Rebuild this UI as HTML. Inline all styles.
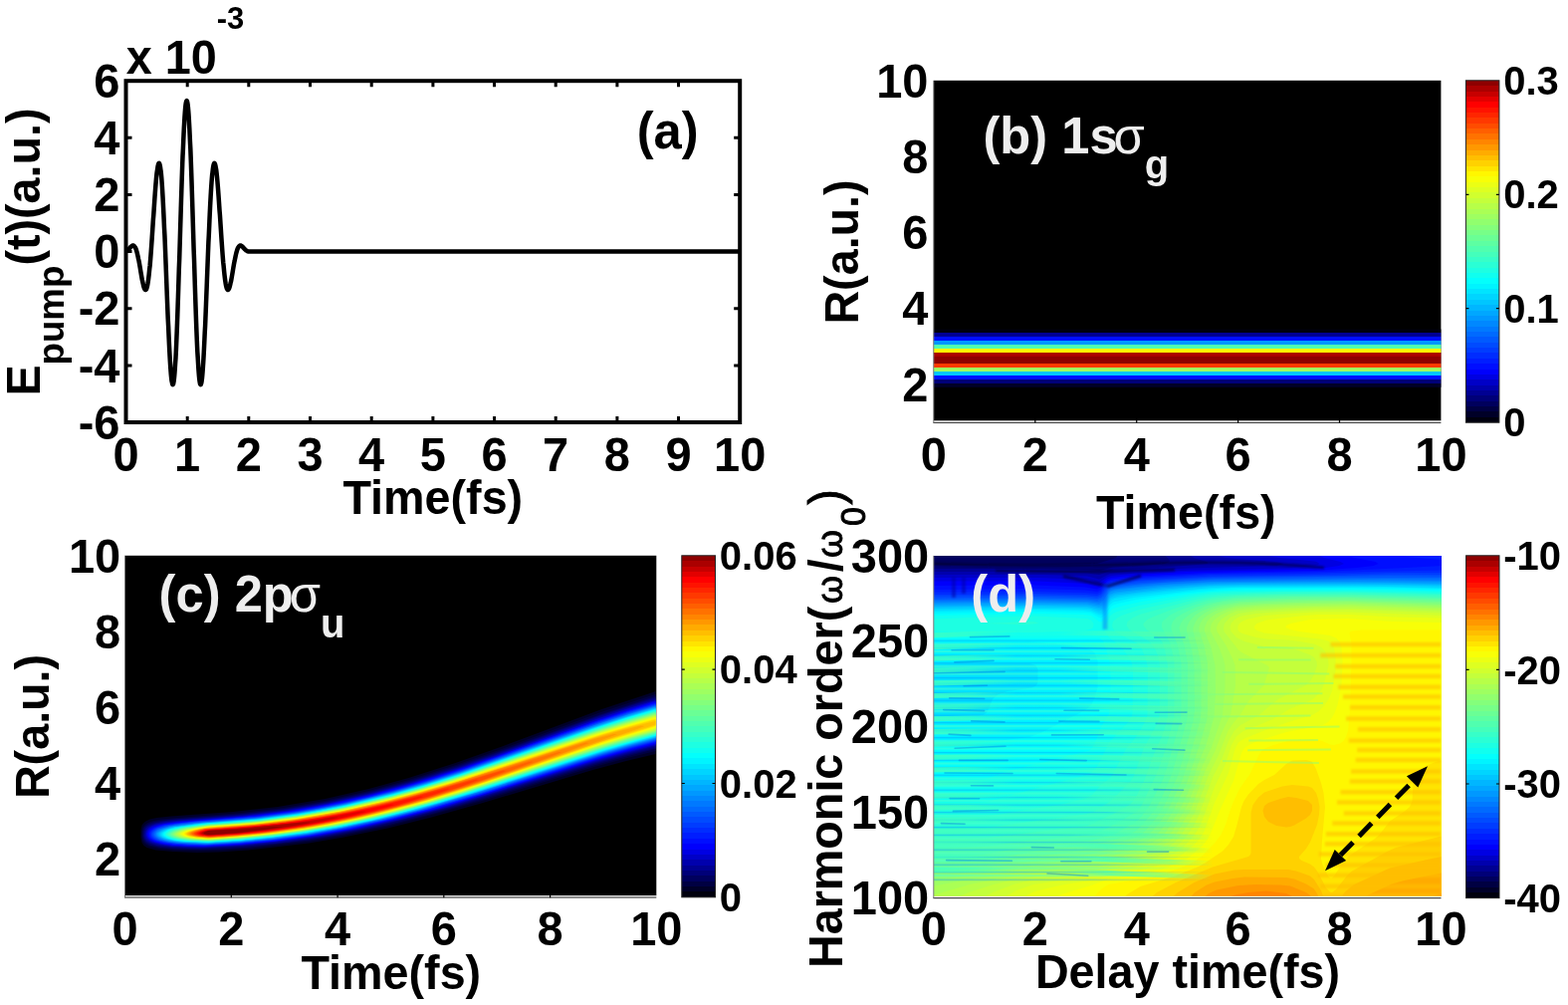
<!DOCTYPE html><html><head><meta charset="utf-8"><title>figure</title><style>html,body{margin:0;padding:0;background:#fff;overflow:hidden}svg{display:block}text{font-family:"Liberation Sans",Arial,Helvetica,sans-serif;font-weight:bold}.n{font-weight:normal}.n2{font-weight:normal;stroke:#000;stroke-width:0.9px}</style></head><body>
<svg width="1575" height="1009" viewBox="0 0 1575 1009">
<rect width="1575" height="1009" fill="#fff"/>
<polyline fill="none" stroke="#000" stroke-width="4.5" stroke-linejoin="round" points="126.5,252.2 126.8,252.1 127.1,251.9 127.4,251.7 127.7,251.5 128,251.3 128.4,251 128.7,250.7 129,250.4 129.3,250.1 129.6,249.8 129.9,249.5 130.2,249.1 130.5,248.8 130.8,248.4 131.1,248.1 131.4,247.8 131.7,247.5 132.1,247.2 132.4,247 132.7,246.8 133,246.6 133.3,246.5 133.6,246.5 133.9,246.5 134.2,246.6 134.5,246.8 134.8,247 135.1,247.4 135.4,247.8 135.8,248.3 136.1,248.9 136.4,249.6 136.7,250.4 137,251.3 137.3,252.3 137.6,253.4 137.9,254.6 138.2,255.9 138.5,257.3 138.8,258.7 139.1,260.2 139.5,261.8 139.8,263.5 140.1,265.2 140.4,266.9 140.7,268.7 141,270.5 141.3,272.3 141.6,274.1 141.9,275.9 142.2,277.6 142.5,279.3 142.8,281 143.2,282.6 143.5,284 143.8,285.4 144.1,286.7 144.4,287.8 144.7,288.8 145,289.6 145.3,290.2 145.6,290.7 145.9,291 146.2,291 146.5,290.9 146.9,290.5 147.2,289.8 147.5,289 147.8,287.9 148.1,286.5 148.4,284.9 148.7,283 149,280.9 149.3,278.5 149.6,275.9 149.9,273.1 150.2,270 150.6,266.7 150.9,263.2 151.2,259.5 151.5,255.6 151.8,251.6 152.1,247.4 152.4,243.1 152.7,238.6 153,234.1 153.3,229.5 153.6,224.9 153.9,220.2 154.3,215.6 154.6,211 154.9,206.5 155.2,202 155.5,197.7 155.8,193.5 156.1,189.5 156.4,185.7 156.7,182.1 157,178.8 157.3,175.7 157.6,173 158,170.5 158.3,168.5 158.6,166.7 158.9,165.4 159.2,164.5 159.5,163.9 159.8,163.8 160.1,164.2 160.4,165 160.7,166.2 161,167.9 161.3,170.1 161.7,172.7 162,175.8 162.3,179.3 162.6,183.3 162.9,187.7 163.2,192.5 163.5,197.7 163.8,203.2 164.1,209.2 164.4,215.4 164.7,222 165,228.8 165.4,235.9 165.7,243.2 166,250.7 166.3,258.3 166.6,266.1 166.9,273.9 167.2,281.7 167.5,289.6 167.8,297.3 168.1,305 168.4,312.6 168.7,320 169.1,327.2 169.4,334.1 169.7,340.8 170,347.1 170.3,353.1 170.6,358.6 170.9,363.8 171.2,368.4 171.5,372.6 171.8,376.3 172.1,379.4 172.4,382 172.8,383.9 173.1,385.3 173.4,386.1 173.7,386.2 174,385.7 174.3,384.5 174.6,382.7 174.9,380.3 175.2,377.3 175.5,373.6 175.8,369.3 176.1,364.5 176.5,359 176.8,353 177.1,346.5 177.4,339.5 177.7,332.1 178,324.1 178.3,315.8 178.6,307.2 178.9,298.2 179.2,289 179.5,279.5 179.8,269.8 180.2,260 180.5,250.1 180.8,240.2 181.1,230.3 181.4,220.4 181.7,210.6 182,201 182.3,191.6 182.6,182.4 182.9,173.6 183.2,165 183.5,156.9 183.9,149.2 184.2,141.9 184.5,135.1 184.8,128.9 185.1,123.3 185.4,118.2 185.7,113.8 186,110 186.3,106.8 186.6,104.4 186.9,102.6 187.2,101.6 187.6,101.2 187.9,101.6 188.2,102.6 188.5,104.4 188.8,106.8 189.1,110 189.4,113.8 189.7,118.2 190,123.3 190.3,128.9 190.6,135.1 190.9,141.9 191.3,149.2 191.6,156.9 191.9,165 192.2,173.6 192.5,182.4 192.8,191.6 193.1,201 193.4,210.6 193.7,220.4 194,230.3 194.3,240.2 194.6,250.1 195,260 195.3,269.8 195.6,279.5 195.9,289 196.2,298.2 196.5,307.2 196.8,315.8 197.1,324.1 197.4,332.1 197.7,339.5 198,346.5 198.3,353 198.7,359 199,364.5 199.3,369.3 199.6,373.6 199.9,377.3 200.2,380.3 200.5,382.7 200.8,384.5 201.1,385.7 201.4,386.2 201.7,386.1 202,385.3 202.4,383.9 202.7,382 203,379.4 203.3,376.3 203.6,372.6 203.9,368.4 204.2,363.8 204.5,358.6 204.8,353.1 205.1,347.1 205.4,340.8 205.7,334.1 206.1,327.2 206.4,320 206.7,312.6 207,305 207.3,297.3 207.6,289.6 207.9,281.7 208.2,273.9 208.5,266.1 208.8,258.3 209.1,250.7 209.4,243.2 209.8,235.9 210.1,228.8 210.4,222 210.7,215.4 211,209.2 211.3,203.2 211.6,197.7 211.9,192.5 212.2,187.7 212.5,183.3 212.8,179.3 213.1,175.8 213.5,172.7 213.8,170.1 214.1,167.9 214.4,166.2 214.7,165 215,164.2 215.3,163.8 215.6,163.9 215.9,164.5 216.2,165.4 216.5,166.7 216.8,168.5 217.2,170.5 217.5,173 217.8,175.7 218.1,178.8 218.4,182.1 218.7,185.7 219,189.5 219.3,193.5 219.6,197.7 219.9,202 220.2,206.5 220.5,211 220.9,215.6 221.2,220.2 221.5,224.9 221.8,229.5 222.1,234.1 222.4,238.6 222.7,243.1 223,247.4 223.3,251.6 223.6,255.6 223.9,259.5 224.2,263.2 224.6,266.7 224.9,270 225.2,273.1 225.5,275.9 225.8,278.5 226.1,280.9 226.4,283 226.7,284.9 227,286.5 227.3,287.9 227.6,289 227.9,289.8 228.3,290.5 228.6,290.9 228.9,291 229.2,291 229.5,290.7 229.8,290.2 230.1,289.6 230.4,288.8 230.7,287.8 231,286.7 231.3,285.4 231.6,284 232,282.6 232.3,281 232.6,279.3 232.9,277.6 233.2,275.9 233.5,274.1 233.8,272.3 234.1,270.5 234.4,268.7 234.7,266.9 235,265.2 235.3,263.5 235.7,261.8 236,260.2 236.3,258.7 236.6,257.3 236.9,255.9 237.2,254.6 237.5,253.4 237.8,252.3 238.1,251.3 238.4,250.4 238.7,249.6 239,248.9 239.4,248.3 239.7,247.8 240,247.4 240.3,247 240.6,246.8 240.9,246.6 241.2,246.5 241.5,246.5 241.8,246.5 242.1,246.6 242.4,246.8 242.7,247 243.1,247.2 243.4,247.5 243.7,247.8 244,248.1 244.3,248.4 244.6,248.8 244.9,249.1 245.2,249.5 245.5,249.8 245.8,250.1 246.1,250.4 246.4,250.7 246.8,251 247.1,251.3 247.4,251.5 247.7,251.7 248,251.9 248.3,252.1 248.6,252.2 248.9,252.3 249.2,252.4 249.5,252.5 249.8,252.5 250.1,252.6 250.5,252.6 250.8,252.6 251.1,252.6 743.2,252.6"/>
<path d="M188.2 424v-6M188.2 81.2v6M249.8 424v-6M249.8 81.2v6M311.5 424v-6M311.5 81.2v6M373.2 424v-6M373.2 81.2v6M434.9 424v-6M434.9 81.2v6M496.5 424v-6M496.5 81.2v6M558.2 424v-6M558.2 81.2v6M619.9 424v-6M619.9 81.2v6M681.5 424v-6M681.5 81.2v6M126.5 366.9h6M743.2 366.9h-6M126.5 309.7h6M743.2 309.7h-6M126.5 252.6h6M743.2 252.6h-6M126.5 195.5h6M743.2 195.5h-6M126.5 138.3h6M743.2 138.3h-6" stroke="#000" stroke-width="3" fill="none"/>
<rect x="126.5" y="81.2" width="616.7" height="342.8" fill="none" stroke="#000" stroke-width="4"/>
<text transform="matrix(1 0 0 1.035 126.5 473)" font-size="47" text-anchor="middle" fill="#000">0</text>
<text transform="matrix(1 0 0 1.035 188.17 473)" font-size="47" text-anchor="middle" fill="#000">1</text>
<text transform="matrix(1 0 0 1.035 249.84 473)" font-size="47" text-anchor="middle" fill="#000">2</text>
<text transform="matrix(1 0 0 1.035 311.51 473)" font-size="47" text-anchor="middle" fill="#000">3</text>
<text transform="matrix(1 0 0 1.035 373.18 473)" font-size="47" text-anchor="middle" fill="#000">4</text>
<text transform="matrix(1 0 0 1.035 434.85 473)" font-size="47" text-anchor="middle" fill="#000">5</text>
<text transform="matrix(1 0 0 1.035 496.52 473)" font-size="47" text-anchor="middle" fill="#000">6</text>
<text transform="matrix(1 0 0 1.035 558.19 473)" font-size="47" text-anchor="middle" fill="#000">7</text>
<text transform="matrix(1 0 0 1.035 619.86 473)" font-size="47" text-anchor="middle" fill="#000">8</text>
<text transform="matrix(1 0 0 1.035 681.53 473)" font-size="47" text-anchor="middle" fill="#000">9</text>
<text transform="matrix(1 0 0 1.035 743.2 473)" font-size="47" text-anchor="middle" fill="#000">10</text>
<text transform="matrix(1 0 0 1.035 120.5 440.7)" font-size="47" text-anchor="end" fill="#000">-6</text>
<text transform="matrix(1 0 0 1.035 120.5 383.57)" font-size="47" text-anchor="end" fill="#000">-4</text>
<text transform="matrix(1 0 0 1.035 120.5 326.43)" font-size="47" text-anchor="end" fill="#000">-2</text>
<text transform="matrix(1 0 0 1.035 120.5 269.3)" font-size="47" text-anchor="end" fill="#000">0</text>
<text transform="matrix(1 0 0 1.035 120.5 212.17)" font-size="47" text-anchor="end" fill="#000">2</text>
<text transform="matrix(1 0 0 1.035 120.5 155.03)" font-size="47" text-anchor="end" fill="#000">4</text>
<text transform="matrix(1 0 0 1.035 120.5 97.9)" font-size="47" text-anchor="end" fill="#000">6</text>
<text transform="matrix(1 0 0 1.035 639.7 149.2)" font-size="50.7" text-anchor="start" fill="#000">(a)</text>
<text transform="matrix(1 0 0 1.035 344.4 515.7)" font-size="46.7" text-anchor="start" fill="#000">Time(fs)</text>
<text transform="matrix(1 0 0 1.035 126.7 74)" font-size="46.8" text-anchor="start" fill="#000">x 10</text>
<text transform="matrix(1 0 0 1.035 217.8 28.6)" font-size="31" text-anchor="start" fill="#000">-3</text>
<text transform="matrix(0 -1 1.03 0 39.6 397.6)" font-size="46.7" text-anchor="start">E<tspan font-size="36.7" dy="23.6">pump</tspan><tspan dy="-23.6">(t)(a.u.)</tspan></text>
<rect x="937.9" y="80.8" width="509.5" height="341.6" fill="#000"/>
<linearGradient id="g1" gradientUnits="userSpaceOnUse" x1="0" y1="330.5" x2="0" y2="388.8"><stop offset="0.00000" stop-color="#00000d"/><stop offset="0.06518" stop-color="#00000d"/><stop offset="0.06518" stop-color="#000092"/><stop offset="0.13208" stop-color="#000092"/><stop offset="0.13208" stop-color="#000eff"/><stop offset="0.20069" stop-color="#000eff"/><stop offset="0.20069" stop-color="#0098ff"/><stop offset="0.26415" stop-color="#0098ff"/><stop offset="0.26415" stop-color="#50ffaf"/><stop offset="0.33105" stop-color="#50ffaf"/><stop offset="0.33105" stop-color="#fff700"/><stop offset="0.40137" stop-color="#fff700"/><stop offset="0.40137" stop-color="#ab0000"/><stop offset="0.46827" stop-color="#ab0000"/><stop offset="0.46827" stop-color="#8e0000"/><stop offset="0.53345" stop-color="#8e0000"/><stop offset="0.53345" stop-color="#8e0000"/><stop offset="0.59863" stop-color="#8e0000"/><stop offset="0.59863" stop-color="#ff3900"/><stop offset="0.66381" stop-color="#ff3900"/><stop offset="0.66381" stop-color="#9eff61"/><stop offset="0.73413" stop-color="#9eff61"/><stop offset="0.73413" stop-color="#00c6ff"/><stop offset="0.79931" stop-color="#00c6ff"/><stop offset="0.79931" stop-color="#000eff"/><stop offset="0.86621" stop-color="#000eff"/><stop offset="0.86621" stop-color="#000078"/><stop offset="0.93482" stop-color="#000078"/><stop offset="0.93482" stop-color="#000028"/><stop offset="1.00000" stop-color="#000028"/></linearGradient>
<rect x="937.9" y="330.5" width="509.5" height="58.3" fill="url(#g1)"/>
<rect x="937.9" y="422.7" width="509.5" height="1.1" fill="#fff" fill-opacity="0.82"/>
<rect x="937.4" y="423.8" width="510" height="1.2" fill="#444"/>
<rect x="937.3" y="80.8" width="1" height="343.8" fill="#777"/>
<path d="M1039.8 424.6v-4M1141.7 424.6v-4M1243.6 424.6v-4M1345.5 424.6v-4" stroke="#000" stroke-width="1.2"/>
<linearGradient id="g2" gradientUnits="userSpaceOnUse" x1="0" y1="80.8" x2="0" y2="424.2"><stop offset="0.00000" stop-color="#8e0000"/><stop offset="0.01563" stop-color="#8e0000"/><stop offset="0.01563" stop-color="#ab0000"/><stop offset="0.03125" stop-color="#ab0000"/><stop offset="0.03125" stop-color="#c70000"/><stop offset="0.04688" stop-color="#c70000"/><stop offset="0.04688" stop-color="#e30000"/><stop offset="0.06250" stop-color="#e30000"/><stop offset="0.06250" stop-color="#ff0000"/><stop offset="0.07812" stop-color="#ff0000"/><stop offset="0.07812" stop-color="#ff1300"/><stop offset="0.09375" stop-color="#ff1300"/><stop offset="0.09375" stop-color="#ff2600"/><stop offset="0.10937" stop-color="#ff2600"/><stop offset="0.10937" stop-color="#ff3900"/><stop offset="0.12500" stop-color="#ff3900"/><stop offset="0.12500" stop-color="#ff4c00"/><stop offset="0.14062" stop-color="#ff4c00"/><stop offset="0.14062" stop-color="#ff5f00"/><stop offset="0.15625" stop-color="#ff5f00"/><stop offset="0.15625" stop-color="#ff7200"/><stop offset="0.17188" stop-color="#ff7200"/><stop offset="0.17188" stop-color="#ff8500"/><stop offset="0.18750" stop-color="#ff8500"/><stop offset="0.18750" stop-color="#ff9800"/><stop offset="0.20313" stop-color="#ff9800"/><stop offset="0.20313" stop-color="#ffab00"/><stop offset="0.21875" stop-color="#ffab00"/><stop offset="0.21875" stop-color="#ffbe00"/><stop offset="0.23438" stop-color="#ffbe00"/><stop offset="0.23438" stop-color="#ffd100"/><stop offset="0.25000" stop-color="#ffd100"/><stop offset="0.25000" stop-color="#ffe400"/><stop offset="0.26562" stop-color="#ffe400"/><stop offset="0.26562" stop-color="#fff700"/><stop offset="0.28125" stop-color="#fff700"/><stop offset="0.28125" stop-color="#f8ff07"/><stop offset="0.29688" stop-color="#f8ff07"/><stop offset="0.29688" stop-color="#ebff14"/><stop offset="0.31250" stop-color="#ebff14"/><stop offset="0.31250" stop-color="#deff21"/><stop offset="0.32812" stop-color="#deff21"/><stop offset="0.32812" stop-color="#d1ff2e"/><stop offset="0.34375" stop-color="#d1ff2e"/><stop offset="0.34375" stop-color="#c4ff3b"/><stop offset="0.35938" stop-color="#c4ff3b"/><stop offset="0.35938" stop-color="#b7ff48"/><stop offset="0.37500" stop-color="#b7ff48"/><stop offset="0.37500" stop-color="#aaff55"/><stop offset="0.39062" stop-color="#aaff55"/><stop offset="0.39062" stop-color="#9eff61"/><stop offset="0.40625" stop-color="#9eff61"/><stop offset="0.40625" stop-color="#91ff6e"/><stop offset="0.42188" stop-color="#91ff6e"/><stop offset="0.42188" stop-color="#84ff7b"/><stop offset="0.43750" stop-color="#84ff7b"/><stop offset="0.43750" stop-color="#77ff88"/><stop offset="0.45312" stop-color="#77ff88"/><stop offset="0.45312" stop-color="#6aff95"/><stop offset="0.46875" stop-color="#6aff95"/><stop offset="0.46875" stop-color="#5dffa2"/><stop offset="0.48438" stop-color="#5dffa2"/><stop offset="0.48438" stop-color="#50ffaf"/><stop offset="0.50000" stop-color="#50ffaf"/><stop offset="0.50000" stop-color="#44ffbb"/><stop offset="0.51563" stop-color="#44ffbb"/><stop offset="0.51563" stop-color="#37ffc8"/><stop offset="0.53125" stop-color="#37ffc8"/><stop offset="0.53125" stop-color="#2affd5"/><stop offset="0.54688" stop-color="#2affd5"/><stop offset="0.54688" stop-color="#1dffe2"/><stop offset="0.56250" stop-color="#1dffe2"/><stop offset="0.56250" stop-color="#10ffef"/><stop offset="0.57812" stop-color="#10ffef"/><stop offset="0.57812" stop-color="#03fffc"/><stop offset="0.59375" stop-color="#03fffc"/><stop offset="0.59375" stop-color="#00f4ff"/><stop offset="0.60938" stop-color="#00f4ff"/><stop offset="0.60938" stop-color="#00e4ff"/><stop offset="0.62500" stop-color="#00e4ff"/><stop offset="0.62500" stop-color="#00d5ff"/><stop offset="0.64062" stop-color="#00d5ff"/><stop offset="0.64062" stop-color="#00c6ff"/><stop offset="0.65625" stop-color="#00c6ff"/><stop offset="0.65625" stop-color="#00b6ff"/><stop offset="0.67188" stop-color="#00b6ff"/><stop offset="0.67188" stop-color="#00a7ff"/><stop offset="0.68750" stop-color="#00a7ff"/><stop offset="0.68750" stop-color="#0098ff"/><stop offset="0.70312" stop-color="#0098ff"/><stop offset="0.70312" stop-color="#0088ff"/><stop offset="0.71875" stop-color="#0088ff"/><stop offset="0.71875" stop-color="#0079ff"/><stop offset="0.73438" stop-color="#0079ff"/><stop offset="0.73438" stop-color="#006aff"/><stop offset="0.75000" stop-color="#006aff"/><stop offset="0.75000" stop-color="#005aff"/><stop offset="0.76562" stop-color="#005aff"/><stop offset="0.76562" stop-color="#004bff"/><stop offset="0.78125" stop-color="#004bff"/><stop offset="0.78125" stop-color="#003cff"/><stop offset="0.79688" stop-color="#003cff"/><stop offset="0.79688" stop-color="#002cff"/><stop offset="0.81250" stop-color="#002cff"/><stop offset="0.81250" stop-color="#001dff"/><stop offset="0.82813" stop-color="#001dff"/><stop offset="0.82813" stop-color="#000eff"/><stop offset="0.84375" stop-color="#000eff"/><stop offset="0.84375" stop-color="#0000fc"/><stop offset="0.85938" stop-color="#0000fc"/><stop offset="0.85938" stop-color="#0000e2"/><stop offset="0.87500" stop-color="#0000e2"/><stop offset="0.87500" stop-color="#0000c7"/><stop offset="0.89062" stop-color="#0000c7"/><stop offset="0.89062" stop-color="#0000ad"/><stop offset="0.90625" stop-color="#0000ad"/><stop offset="0.90625" stop-color="#000092"/><stop offset="0.92188" stop-color="#000092"/><stop offset="0.92188" stop-color="#000078"/><stop offset="0.93750" stop-color="#000078"/><stop offset="0.93750" stop-color="#00005d"/><stop offset="0.95312" stop-color="#00005d"/><stop offset="0.95312" stop-color="#000042"/><stop offset="0.96875" stop-color="#000042"/><stop offset="0.96875" stop-color="#000028"/><stop offset="0.98437" stop-color="#000028"/><stop offset="0.98437" stop-color="#00000d"/><stop offset="1.00000" stop-color="#00000d"/></linearGradient>
<rect x="1472.4" y="80.8" width="33.5" height="343.4" fill="url(#g2)"/>
<rect x="1472.4" y="80.8" width="33.5" height="343.4" fill="none" stroke="#222" stroke-width="1"/>
<path d="M1472.4 309.7h3M1505.9 309.7h-3M1472.4 195.3h3M1505.9 195.3h-3" stroke="#000" stroke-width="1.2"/>
<text transform="matrix(1 0 0 1.035 1510.2 438.4)" font-size="40" text-anchor="start" fill="#000">0</text>
<text transform="matrix(1 0 0 1.035 1510.2 323.93)" font-size="40" text-anchor="start" fill="#000">0.1</text>
<text transform="matrix(1 0 0 1.035 1510.2 209.47)" font-size="40" text-anchor="start" fill="#000">0.2</text>
<text transform="matrix(1 0 0 1.035 1510.2 95)" font-size="40" text-anchor="start" fill="#000">0.3</text>
<text transform="matrix(1 0 0 1.035 937.9 473)" font-size="47" text-anchor="middle" fill="#000">0</text>
<text transform="matrix(1 0 0 1.035 1039.8 473)" font-size="47" text-anchor="middle" fill="#000">2</text>
<text transform="matrix(1 0 0 1.035 1141.7 473)" font-size="47" text-anchor="middle" fill="#000">4</text>
<text transform="matrix(1 0 0 1.035 1243.6 473)" font-size="47" text-anchor="middle" fill="#000">6</text>
<text transform="matrix(1 0 0 1.035 1345.5 473)" font-size="47" text-anchor="middle" fill="#000">8</text>
<text transform="matrix(1 0 0 1.035 1447.4 473)" font-size="47" text-anchor="middle" fill="#000">10</text>
<text transform="matrix(1 0 0 1.035 932.5 402.57)" font-size="47" text-anchor="end" fill="#000">2</text>
<text transform="matrix(1 0 0 1.035 932.5 326.3)" font-size="47" text-anchor="end" fill="#000">4</text>
<text transform="matrix(1 0 0 1.035 932.5 250.03)" font-size="47" text-anchor="end" fill="#000">6</text>
<text transform="matrix(1 0 0 1.035 932.5 173.77)" font-size="47" text-anchor="end" fill="#000">8</text>
<text transform="matrix(1 0 0 1.035 932.5 97.5)" font-size="47" text-anchor="end" fill="#000">10</text>
<text transform="matrix(1 0 0 1.035 1100.9 531.4)" font-size="46.7" text-anchor="start" fill="#000">Time(fs)</text>
<text transform="matrix(0 -1 1.03 0 861.8 325.6)" font-size="46.7" text-anchor="start">R(a.u.)</text>
<text transform="matrix(1 0 0 1.035 987.4 153.9)" font-size="50.7" text-anchor="start" fill="#eeeeee">(b) 1s<tspan class="n" dx="-4">σ</tspan><tspan font-size="40" dy="24">g</tspan></text>
<rect x="125.6" y="557.8" width="533.7" height="341.5" fill="#000"/>
<g>
<path fill="#000028" fill-rule="evenodd" d="M657.5 694.5l1-0.5 0 63-29.5 7-33.5 9-112 33.5-50 14-44 11-44 9-35 6-30 3.5-31 3.5-30 2-22 0.5-24-1-17-1.5-9-2.5-3-2-2-3-1-5 0-8 1-4.5 2-2.5 2-1.5 4-2 7-1.5 14-1.5 62.5-4.5 45-5 47.5-8 44-10 40-11 47-15 48-17 99-37 53-17.5z"/>
<path fill="#000042" fill-rule="evenodd" d="M656.5 697.5l2-0.5 0 57-28.5 7-33 9-114.5 34.5-45 12.5-48 12.5-43 9-35 6-29 3.5-30 3.5-29 2-22 0.5-25-0.5-16-1.5-11-2.5-4-2.5-2-2.5-1-4.5 0-5 1-4 2-3 3-2 4-1.5 9-2 10-1 70.5-5.5 42.5-5 41-7 45-10 40-11 47.5-15 46-16 99.5-37 53-17.5z"/>
<path fill="#00005d" fill-rule="evenodd" d="M656.5 699.5l2-0.5 0 53-27.5 7-33 9-113.5 34.5-49 14-47 12-43 9-35 6-29 3.5-30 3.5-29 2-21 0.5-24-0.5-16-1.5-11-2.5-4-2.5-2-2.5-1-3.5 0-5 1-4 2-2 3-2 4-1.5 7-1.5 13-1.5 69.5-5.5 42.5-5 41-7 44.5-10 40.5-11 47.5-15 43.5-15 100-36.5 54-18z"/>
<path fill="#000078" fill-rule="evenodd" d="M657.5 700.5l1 0 0 50.5-29 7-32.5 9-136.5 41.5-47 12.5-43 10.5-41 8-40 6-46 4.5-38 2-17 0-17-1-13-1.5-8-2.5-3.5-2-2-3-1-3 0.5-4 1-3 2-2.5 3-1.5 4-1.5 9-2 10-1.5 67.5-5 43-5 41.5-7 45.5-10 40.5-11 45-14 46-16 101-37 29-9.5 25-8z"/>
<path fill="#000092" fill-rule="evenodd" d="M658.5 701.5l0 48-29 7.5-32.5 9-146.5 44.5-44 11.5-44 10.5-43 8-43 6-43 3.5-33 1.5-17-0.5-15-1-11-1.5-7-2.5-3-2-1.5-2-1-3 0.5-4 1-3 2-2 7-3 9-2 14-1.5 69.5-5.5 34-4 47.5-8 44.5-10 40-11 45-14 40.5-14 104-38 30-10 25-7.5z"/>
<path fill="#0000ad" fill-rule="evenodd" d="M657.5 703l1-0.5 0 46-29 7.5-32 9-108 33-41 12.5-45 12-44 10-38 7-41 5.5-41 4-35 2-20-0.5-14-1-10-1.5-8-2-3-2-2.5-2-1-3 0-3 1.5-3 1.5-2 3.5-2 4-1.5 10-2 11-1.5 66-5 42.5-5 41.5-7 45-10 40.5-11 45-14 43.5-15 101-36.5 30-10 25-7.5z"/>
<path fill="#0000c7" fill-rule="evenodd" d="M657.5 703.5l1 0 0 44.5-28 7-32.5 9-111.5 34.5-44 13-45 11.5-41 9.5-38 7-42 5.5-35 3.5-37 2-17-0.5-15-0.5-12-2-7-2-3-1.5-2-2-1.5-3 0-3 0.5-2 2-2.5 3-2 4-1.5 9-1.5 14-2 69.5-5.5 40.5-5 40.5-7 44.5-10 40.5-11 42-13 43.5-15 102-37 30-10 25-7.5z"/>
<path fill="#0000e2" fill-rule="evenodd" d="M656.5 704.5l2-0.5 0 43-27 7-32.5 9-110.5 34-48 14.5-41 10.5-40 9.5-38 7-41 5.5-40 4-34 2-31-1-12-1.5-8-2-3.5-1.5-2.5-2-1.5-2-0.5-3 1-3 2-2 3-2 5-1.5 10-2 15-2 59.5-4.5 43-5 41.5-7 45-10 41-11 45-14 41-14 102-36.5 30-10 25-8z"/>
<path fill="#0000fc" fill-rule="evenodd" d="M655.5 705.5l3-0.5 0 41.5-26 6.5-32 9-117 36-48 14.5-42 10.5-41 9.5-39 6.5-37 5.5-40 3.5-31 1.5-17 0-15-1-10-1.5-8-2-5-3-1.5-2-0.5-3 1-3 2-2 7-3 8-2 14-1.5 67-5.5 41.5-5 40.5-7 45-10 40.5-11 42-13 44-15 99.5-35.5 30-10 25-8z"/>
<path fill="#000eff" fill-rule="evenodd" d="M657.5 706l1-0.5 0 40-28.5 7.5-31.5 9-117 36.5-48 14-42 10.5-41 9.5-40 7-37 5-35 3-35 2-29-1.5-11-1.5-8-2.5-4-2-1.5-2-0.5-3 0.5-2 2-2 2.5-2 9-3 12-1.5 18-2 67-5.5 37.5-5 48-9 26-6 27-7 34-10 34.5-11 135-48 30-9.5 25-7.5z"/>
<path fill="#001dff" fill-rule="evenodd" d="M656.5 706.5l2-0.5 0 39-27 7-31.5 9-116.5 36.5-51 14.5-39 10.5-40 9-39 7-36 5-39 3.5-33 2-29-1-12-1.5-8-2-3.5-1.5-2.5-2-1-2 0-3 1.5-2 2.5-2 4-2 6-1.5 13-2 19-2 58-4.5 45.5-6 48-9 25.5-6 27-7 31-9 34.5-11 134.5-47.5 31-10.5 25-7.5z"/>
<path fill="#002cff" fill-rule="evenodd" d="M658.5 706.5l0 38-25 6.5-32 9-120 37.5-54 15.5-39 10-37 8.5-39 7-38 5-39 3.5-31 1.5-16 0-14-1-11-2-7-2-2.5-1.5-2-2-0.5-3 0.5-2 2-2 2.5-1.5 9-3 27-3.5 65-5 38.5-5 23.5-4 25.5-5 26-6 27-7 31.5-9 34.5-11 138.5-49 30-9.5 26-8z"/>
<path fill="#003cff" fill-rule="evenodd" d="M656.5 708l2-1 0 37-27 7-31.5 9-119.5 37.5-51 15-43 11-37 8-39 7-36 4.5-34 3.5-34 2-29-1.5-11-1.5-7.5-1.5-4-2-2-2-1-2 0.5-2 1.5-2 2.5-2 9-3 11-1.5 18-2.5 66-5 37.5-5 23.5-4 25-5 26-6 27-7 31-9 34.5-11 135.5-47.5 31-10.5 25-7z"/>
<path fill="#004bff" fill-rule="evenodd" d="M658.5 707.5l0 36-25 6.5-31.5 9-122.5 38.5-55 16-40 10-41 8.5-35 6.5-38 5-34 3-32 1.5-16-0.5-13-1-10-1.5-7-2-3.5-2-1.5-2-0.5-2 1-2 4.5-3.5 9-2.5 12-2 18-2 56.5-4 39.5-5 24-4 26-5 26.5-6 27-7 31.5-9 35-11 139-49 30-9.5 26-8z"/>
<path fill="#005aff" fill-rule="evenodd" d="M656.5 709l2-1 0 35-27 7-31 9-122 38-55 16-40 10.5-37 8-34 6-37 5-38 3.5-30 2-16-0.5-13-1-10-1-8-2-3-1.5-2.5-2-1-2 0.5-2 1.5-2 2.5-1.5 10-3 12-2 19-2 57-4.5 39-5 24-4 25-5 26.5-6 27-7 31.5-9 35-11 136-47.5 31-10.5 25-7z"/>
<path fill="#006aff" fill-rule="evenodd" d="M658.5 708.5l0 34-25 6.5-31.5 9-121.5 38.5-59 17-39 10-37 7.5-35 6.5-37 5-32 3-35 2-28-1-10-1.5-8-2-4.5-3-1-2 0.5-2 1.5-2 2.5-1.5 10-3 13-2 19-2 57.5-4.5 38-5 24-4 25-5 49.5-12 32-9 35-11 139-48.5 31-10 26-8z"/>
<path fill="#0079ff" fill-rule="evenodd" d="M656.5 709.5l2-0.5 0 33-26.5 7-31 9-121.5 38-59 17.5-39 9.5-37 8-35 6.5-37 5-32 3-33 2-27-1.5-10-1-8-2-3-1-2.5-2-1-2 0.5-2 1.5-2 2.5-1.5 10-3 14-2 19-2 37-2.5 21-2 37.5-5 48.5-9 49.5-12 31.5-9 35-11 137-48 30-9.5 26-8z"/>
<path fill="#0088ff" fill-rule="evenodd" d="M658.5 709.5l0 32-28 7.5-27.5 8-124.5 39-59 17.5-39 9.5-38 8.5-35 6-37 4.5-33 3.5-31 1.5-26-1-11-1.5-7-2-4.5-2.5-1-2 0-2 4-3 9.5-3 26-3.5 57.5-4.5 40-5 24.5-4 25.5-5 50-12 32-9 35.5-11 38.5-13 101.5-36 31-10 26-7.5z"/>
<path fill="#0098ff" fill-rule="evenodd" d="M656.5 710.5l2-0.5 0 31-26 7-31 9-124 39-59 17.5-36 9-36 7.5-34 6.5-37 5-31 3-36 2.5-27-1.5-10-1-7-1.5-5.5-3-1.5-2 0.5-2 4.5-3 9-3 30-4 55-4 39-5 24-4 25.5-5 50-12 32-9 35-11 137.5-47.5 31-10.5 26-7.5z"/>
<path fill="#00a7ff" fill-rule="evenodd" d="M657.5 710.5l1 0 0 30-27.5 7.5-27.5 8-127 40-59 17.5-36 9-37 8-34 6-37 5-32 3-34 2-26-1-10-1.5-7-1.5-5-3-1-1.5 0.5-2 4.5-3 9-3 30-3.5 56-4.5 38.5-5 24-4 25.5-5 49.5-12 32-9 35-11 137.5-47.5 31-10 26-8z"/>
<path fill="#00b6ff" fill-rule="evenodd" d="M655.5 711.5l3-0.5 0 29.5-25 6.5-31 9-124 39.5-62 18-36 9-37 8-34 6-36 4.5-32 3.5-33 2-25-1-10-1.5-7-1.5-5.5-2.5-1.5-2 0.5-2 4.5-3 9-2.5 31-4 56.5-4.5 37.5-5 24-4 25-5 49.5-12 32-9 35-11 134.5-46.5 31-10 26-8z"/>
<path fill="#00c6ff" fill-rule="evenodd" d="M656.5 712l2-1 0 29-26.5 7-27.5 8-127 40.5-62 18-36 9-37 8-35 6-36 4.5-32 3.5-31 1.5-25-1-10-1-7-2-3-1-2.5-2-0.5-1 0.5-2 5-3 8.5-2.5 31-4 32-2.5 25.5-2 37-5 48.5-9 46-11 32-9 35.5-11 137.5-47.5 31-10 26-7.5z"/>
<path fill="#00d5ff" fill-rule="evenodd" d="M658.5 711.5l0 28-24 6.5-28 8-133 42.5-62 17.5-37 9.5-34 7-34 6-37 4.5-32 3-30 2-25-1-9-1.5-7-2-3-1-1.5-1.5-0.5-1 0.5-2 5-3 8.5-2.5 24-3.5 56-4 39.5-5 24.5-4 25.5-5 50.5-12 32-9 35-11 138-47.5 31-10 27-8z"/>
<path fill="#00e4ff" fill-rule="evenodd" d="M656.5 712.5l2-0.5 0 27-25.5 7-27.5 8-130 41.5-33 10-32 8.5-37 9.5-33 6.5-35 6-32 4.5-31 3-34 2-24-1-9-1-7.5-1.5-2.5-1-2.5-2-0.5-1 0.5-2 5-3 8.5-2.5 28-3.5 53-4 39-5 24-4 25.5-5 46.5-11 32.5-9 35.5-11 141-48.5 29-9.5 26-7.5z"/>
<path fill="#00f4ff" fill-rule="evenodd" d="M657.5 712.5l1 0 0 26-27 7.5-27 8-130 41.5-33 10-32 8.5-37 9.5-33 6.5-35 6-32 4.5-31 3-33 2-24-1-9-1-7-2-4.5-2.5-0.5-1 0.5-2 5.5-3 8-2 28-4 54-4 38.5-5 24-4 25-5 46.5-11 32-9 36-11 138-47.5 31-10 27-8z"/>
<path fill="#03fffc" fill-rule="evenodd" d="M655.5 713.5l3-0.5 0 25.5-24.5 6.5-27.5 8-132 42-63 18.5-36 9-33 7-34 6-35 4.5-32 3.5-32 2-23-1-9-1-7-1.5-3-1.5-2.5-1.5-0.5-1 0.5-2 4.5-3 9-2 27-4 55.5-4 38.5-5 23.5-4 25-5 46.5-11 32-9 35.5-11 138.5-47.5 29-9.5 26-7.5z"/>
<path fill="#10ffef" fill-rule="evenodd" d="M656.5 713.5l2-0.5 0 25-26 7-27 8-132 42-33 10-30 8.5-35 8.5-33 7-34 6-32 4.5-35 3.5-32 2-22-0.5-9-1.5-7-1.5-3-1-2.5-1.5-0.5-1 0.5-2 4.5-3 9-2 27-3.5 31-2.5 25.5-2 37.5-5 48.5-9 46-11 32.5-9 35.5-11 136.5-47 31-10 26-7.5z"/>
<path fill="#1dffe2" fill-rule="evenodd" d="M658.5 713.5l0 24-51 14.5-135 43-34 10.5-32 9-37 9-33 6.5-35 6-32 4-31 3-30 2-23-1-8-1-7-2-3.5-2-1-1 1-2 4.5-2.5 9-2.5 27-3.5 51-4 37-4.5 24.5-4 25.5-5 46.5-11 32.5-9 36-11 140-48 31-9.5 27-8z"/>
<path fill="#2affd5" fill-rule="evenodd" d="M655.5 714.5l3-0.5 0 23-25 7-27 7.5-132 43-33 10-32 8.5-36 9-33 7-34 6-31 4.5-32 3-34 2.5-21-1-15-2.5-5.5-2.5-1-1 1-2 3.5-2.5 9-2 23-3.5 52-4 41-5 24.5-4 25.5-5 46.5-11 32.5-9 36-11 139-47.5 29-9 26-8z"/>
<path fill="#37ffc8" fill-rule="evenodd" d="M657.5 714.5l1 0 0 22.5-50 14-137 44-34 10-33 9.5-33 8-33 7-34 5.5-32 4.5-30 3-33 2-22-1-9-1-6-1.5-3.5-2-1-1 1-2 4.5-2.5 9-2.5 26-3.5 50.5-3.5 39-5 24-4 25.5-5 46.5-11 32.5-9 35.5-11 137.5-47 31-9.5 27-8z"/>
<path fill="#44ffbb" fill-rule="evenodd" d="M658.5 714.5l0 22-50 14-138 44.5-34 10.5-33 9-33 8-33 7-34 5.5-32 4.5-30 3-32 2-21-1-9-1-6-1.5-3.5-2-1-1 1-2 4.5-2.5 9-2.5 24-3 53.5-4 38.5-5 44-8 47.5-11 32.5-9 36.5-11 139.5-47.5 31-10 28-8z"/>
<path fill="#50ffaf" fill-rule="evenodd" d="M656.5 715.5l2-0.5 0 21-51 14.5-135 43.5-36 11-33 9-34 8.5-33 7-34 5.5-30 4-31 3-32 2-20-0.5-14-2.5-4.5-2-1-1 1-2 3.5-2 9-2.5 24-3.5 30-2 25-2 38-5 44-8 47.5-11 32.5-9 36-11 139-47 30-9.5 27-8z"/>
<path fill="#5dffa2" fill-rule="evenodd" d="M657.5 715.5l1 0 0 20-28 8-31 9-137 44.5-60 17-33 8-34 7.5-31 5-33 4.5-31 3-31 2-20-1-13.5-2-4-2-1-1 1-2 3.5-2 9-2.5 24-3.5 28-1.5 26-2.5 38-5 45-8 47-11 33-9 35-11 140-47 29-9.5 28-8z"/>
<path fill="#6aff95" fill-rule="evenodd" d="M655.5 716.5l3-0.5 0 19.5-27 7-32 10-138 44.5-57 16.5-32 8-33 7-32 5.5-30 4-33 3.5-35 2.5-18-1-13-2-5.5-2-1-1 0-1 1.5-1.5 3-1.5 8-2 24-3.5 28-2 27-2.5 37-5 46-8 47-11 32.5-9 35.5-11 137-46 32-10 25-7.5z"/>
<path fill="#77ff88" fill-rule="evenodd" d="M656.5 716.5l2-0.5 0 19-28 7.5-32 9.5-137 45-60 17-33 8-30 6.5-33 5.5-30 4-32 3.5-34 2-18-0.5-13-2-4.5-2-1-1 0-1 1-1 4-2 7.5-2 23-3.5 28-1.5 25-2.5 37-5 48-8.5 47-11 32-9 34-10 140-47 32-10 25-7.5z"/>
<path fill="#84ff7b" fill-rule="evenodd" d="M658.5 716.5l0 18-28 7.5-30 9.5-139.5 45.5-34 10-29.5 8-32 7.5-32 6.5-31 5.5-32 4-30 3-31 2-19-1-7-1-6-1.5-2.5-1-1-1 0-1 1-1 4-2 8.5-2.5 21-2.5 51.5-4 38.5-5 45-8 47-11 33-9 36-11 141-47 32-10 26-7.5z"/>
<path fill="#91ff6e" fill-rule="evenodd" d="M655.5 718l3-1 0 17-27 7.5-32 10-136 44.5-33.5 10-29.5 8-33 8-30 6-30 5.5-30 4-34 3.5-34 2.5-16-1-12.5-1.5-5-2-1-1 0-1 1-1 4-2 8-2 20.5-3 28-2 25-2 38.5-5 47.5-9 47-11 32-8.5 34-10.5 138-46 32-10 25-7z"/>
<path fill="#9eff61" fill-rule="evenodd" d="M657.5 717.5l1 0 0 16.5-27 7-30 9.5-139 45.5-33.5 10-29.5 8-33 8-30 6-31 5.5-31 4-32 3.5-33 2-17-0.5-12-2-3.5-1.5-1-1 0-1 1-1 4-2 8.5-2 19-3 28-1.5 25-2.5 38-5 45-8 47-11 33-9 33-10 142-47 32.5-10 25.5-7.5z"/>
<path fill="#aaff55" fill-rule="evenodd" d="M658.5 718l0 15.5-26 7-32 9.5-138.5 46-33.5 10-33.5 9-34 8-29.5 6-30 5-30 4-31 3-31 2-17-1-12-2-3.5-2 0-1 1-1 4-2 8.5-2 19-3 27-1.5 25-2.5 38-4.5 45-8.5 47-10.5 33-9 34-10.5 142-47 29-9 29-8z"/>
<path fill="#b7ff48" fill-rule="evenodd" d="M656.5 718.5l2-0.5 0 15-27 7.5-32 9.5-138.5 46-33.5 10-29.5 8-33 8-29 6-28.5 5-30 4-34 3.5-34 2.5-15-1-11-1.5-4-1.5-1.5-1 0-1 1-1 4.5-2 8.5-2 17.5-2.5 26-2 26-2 39-5 45-8.5 47-10.5 33-9 33-10 140-46.5 29-9 29-8.5z"/>
<path fill="#c4ff3b" fill-rule="evenodd" d="M658.5 718.5l0 14-28 8-29 8.5-141.5 47-33.5 10-33.5 9-29 7-30.5 6-30 5-31 4.5-32 3-31 2-16-0.5-11-2.5-3-1.5-0.5-1 1-1 4.5-2 8.5-2 16.5-2.5 50-4 38-4.5 45-8 48-11 33-9 33-9.5 143-47.5 33-10 26-7.5z"/>
<path fill="#d1ff2e" fill-rule="evenodd" d="M656.5 719.5l2-0.5 0 13-26 7.5-32 9.5-138 46-33 10-33.5 9-33 8-29 6-29 5-29 4-32.5 3-34 2.5-14-0.5-11-2-4-2-0.5-1 1-1 4.5-2 9-2 15-2.5 49-3.5 40-5 45-8 47-10.5 33-9 34-10.5 140-46 33-10 26-7.5z"/>
<path fill="#deff21" fill-rule="evenodd" d="M658.5 719.5l0 12-27 7.5-30 9.5-139.5 46.5-37 11-33.5 9-29.5 7-29.5 6-29 5-29 4-32 3-33 2.5-14-1-11-2-3-1.5-0.5-1 1-1 4.5-2 9-2 14-2 50-4 39-5 45-7.5 48-11 30-8.5 34-10 143.5-47 33-10 26.5-7.5z"/>
<path fill="#ebff14" fill-rule="evenodd" d="M656.5 720.5l2-0.5 0 11-26 7.5-32 10-99.5 33.5-40 13-37 11-33.5 9-29.5 7-29.5 6-29 5-29.5 4-30.5 3-33 2-13-0.5-10-1.5-4-2-0.5-1 1-1 4.5-2 9.5-2 12.5-2 50-3.5 40-5.5 45-7.5 48-11 30-8.5 33-9.5 141.5-46.5 33-10 26.5-7.5z"/>
<path fill="#f8ff07" fill-rule="evenodd" d="M658.5 720.5l0 10-27 7.5-29 9.5-139.5 46.5-36.5 11-37 10-29.5 7-29.5 6-29.5 5-29.5 4-30 3-32 2-14-1-9-1.5-3-1.5 0-1 0.5-1 5-2 9-2 11.5-2 50-3.5 40-5 46-8 44-10.5 30-7.5 34-10 38-12.5 107-35 33-10 27-7.5z"/>
<path fill="#fff700" fill-rule="evenodd" d="M656.5 721.5l2-0.5 0 9-26 7.5-31 9.5-99 34-40 13-36.5 11-37.5 10-25 6-29 6-28.5 5-28 4-33.5 3.5-34 2.5-12-1-9.5-1-4.5-2 0-1 0.5-1 5-2 8.5-2 11-1.5 51-4 40-5 46-8 44-10.5 30-8 34-10 142-46 33.5-10 26.5-7.5z"/>
<path fill="#ffe400" fill-rule="evenodd" d="M655.5 722.5l3-0.5 0 7-56 17.5-138 46.5-39.5 12-37.5 10-25 6-29 6-28.5 5-28.5 4-32 3-34 2.5-11-0.5-9-1-4.5-2-0.5-1 0.5-1 5-2 7.5-2 11-1.5 49-3.5 43-5.5 46-8 44-10.5 30-8 34-10 139.5-45 33.5-10 27-7.5z"/>
<path fill="#ffd100" fill-rule="evenodd" d="M658.5 722.5l0 6-54 16.5-101.5 35-39.5 13-43 13-38 10-30 7-31 6-24.5 4-30.5 4-31 3-26 1.5-12-1-9-1.5-1.5-1-0.5-1 2.5-2 13-3 7.5-1.5 48-3.5 41-5 45-7.5 45-10.5 34-9 40-11.5 144-46.5 28-8 24-6.5z"/>
<path fill="#ffbe00" fill-rule="evenodd" d="M658.5 724l0 3.5-56 17.5-115 40-57.5 18-48.5 13-25.5 6-30 6-23.5 4-29 4-30 3-34 2.5-11-1-8.5-1.5-2-1-0.5-1 1-1 5-2 9-2 7-1 49-3.5 40-5 42-7.5 45-10 34-8.5 41-12 144.5-46.5 28.5-8 25-6z"/>
<path fill="#ffab00" fill-rule="evenodd" d="M643.5 728.5l4 0.5-7.5 3-157 54-54 17-48.5 13-26 6-24.5 5-22.5 4-27.5 4-31.5 3.5-33 2.5-10 0-10.5-1-6-2-0.5-1 1-1 5-2 6-1.5 9-1.5 51-3.5 40-5 45-8 45-10.5 34-9 37-10.5 136-43.5 28.5-8 17.5-4.5z"/>
<path fill="#ff9800" fill-rule="evenodd" d="M616.5 737l3.5 0-15.5 6-119.5 42-57 18-48.5 13-26 6-24.5 5-23 4-28 4-37.5 4-28.5 2-7.5-0.5-9-1-5-1.5-0.5-1 0.5-1 5-2 6-1.5 8-1 46-3.5 41-5 46-8 45-9.5 31-8.5 31-8.5 124-39.5 27-8 16-4z"/>
<path fill="#ff8500" fill-rule="evenodd" d="M588.5 745.5l3 0.5-23 9-50 18-44 15-54.5 17-50 13-27 6-26.5 5-48 7-30 3-28 1.5-9-0.5-7-1-3-1-0.5-1 0.5-1 5-2 7-1.5 6-1 46-3.5 41-4.5 42-7 42-9.5 31-7.5 36-10.5 112.5-35 28.5-8.5z"/>
<path fill="#ff7200" fill-rule="evenodd" d="M561.5 755l2.5 0-2 1-20.5 8-39 14-38 13-53 16-47 12-49.5 10-48.5 7-30.5 3-25.5 1.5-8-0.5-7-1-2.5-1-1-1 0.5-1 5.5-2 6.5-1.5 51-4 36-4 43-7 39-8.5 32-7.5 36-10 99-30.5 21-6z"/>
<path fill="#ff5f00" fill-rule="evenodd" d="M535.5 764l1 0-1 0zM531.5 765l3-0.5 0.5 0.5-20.5 8-31 11-33 11-51 15-45 11-47 9-43 6-31 3-23 1.5-7-0.5-6-1-3.5-1-1-1 1-1 5-2 6.5-1.5 44-3.5 37-4 39-6 40-7.5 34-8.5 33-8.5 99-29.5z"/>
<path fill="#ff4c00" fill-rule="evenodd" d="M505.5 773.5l2.5 0.5-2 1-18.5 7-54.5 18-42.5 12-42 10-42.5 8-43.5 6-32 3-20 1-6.5 0-6-1-2.5-1-1-1 0.5-1 5-2 5.5-1.5 46-3 35-4 34-5 37-7 31-7 31-8 86-25z"/>
<path fill="#ff3900" fill-rule="evenodd" d="M478.5 782.5l2 0.5-2.5 1-16 6-47.5 15-37 10-40 9-39.5 7-37.5 5-50 4-11-1-3-1-1-1 0.5-1 5.5-2 5-1.5 45-3 30-3 35-5 33-6 53-12.5 76-20.5z"/>
<path fill="#ff2600" fill-rule="evenodd" d="M449.5 791.5l2.5 0.5-14 5-39.5 12-35 9-38 8-35.5 6-32 4-47.5 3.5-10-1-3-1-0.5-0.5 0.5-1 5-2 5-1 37-2.5 31-3 30-4 35-6 47-10 62-16z"/>
<path fill="#ff1300" fill-rule="evenodd" d="M422.5 799.5l2.5 0.5-12 4-35.5 10-34 8-30.5 6-32.5 5-34.5 4-35.5 2.5-9-1-2-0.5-1.5-1 0.5-1 5.5-2 4.5-1 52-4 26-3 27-3.5 49-9 60-14z"/>
<path fill="#ff0000" fill-rule="evenodd" d="M392.5 807.5l3.5 0.5-6.5 2-34.5 9-28 6-28 5-28.5 4-27.5 3-32.5 2-7-0.5-3-1-1-0.5 0.5-1 1.5-1 7-2 44-3 44-5 43-6.5 53-11z"/>
<path fill="#e30000" fill-rule="evenodd" d="M368.5 814l1 0-1 0zM362.5 814.5l4 0 1 0.5-24 6-24 5-29.5 5-22 3-28 3-27 2-6.5-0.5-4-0.5-2-1 0.5-1 2-1 6.5-1.5 35-2.5 39-3.5 36-5 43-8z"/>
<path fill="#c70000" fill-rule="evenodd" d="M340.5 820l1 0-1 0zM333.5 820.5l5 0 0.5 0.5-12.5 3-21 4-25 4-44 5-29 1.5-4-1-1.5-0.5 0.5-1 1.5-1 5.5-1.5 26-1.5 34-3 33-3.5 31-5z"/>
<path fill="#ab0000" fill-rule="evenodd" d="M313.5 825l1 0-1 0-0.5 0 0.5 0zM304.5 825.5l6 0 1 0.5-4.5 1-37.5 6-26 3-34 2.5-4-0.5-2-1 0-1 2-1 4-1 43-3 52-5.5z"/>
<path fill="#8e0000" fill-rule="evenodd" d="M274.5 830l9.5 0-19 3-26 3-25 2-5.5 0-3.5-1 0-1 4.5-2 35-1.5 30-2.5z"/>
</g>
<rect x="125.6" y="899.3" width="533.7" height="1.1" fill="#fff" fill-opacity="0.82"/>
<rect x="125.1" y="900.4" width="534.2" height="1.2" fill="#444"/>
<rect x="125" y="557.8" width="1" height="343.4" fill="#777"/>
<path d="M232.3 901.2v-4M339.1 901.2v-4M445.8 901.2v-4M552.6 901.2v-4" stroke="#000" stroke-width="1.2"/>
<linearGradient id="g3" gradientUnits="userSpaceOnUse" x1="0" y1="557.8" x2="0" y2="900.8"><stop offset="0.00000" stop-color="#8e0000"/><stop offset="0.01562" stop-color="#8e0000"/><stop offset="0.01562" stop-color="#ab0000"/><stop offset="0.03125" stop-color="#ab0000"/><stop offset="0.03125" stop-color="#c70000"/><stop offset="0.04688" stop-color="#c70000"/><stop offset="0.04688" stop-color="#e30000"/><stop offset="0.06250" stop-color="#e30000"/><stop offset="0.06250" stop-color="#ff0000"/><stop offset="0.07812" stop-color="#ff0000"/><stop offset="0.07812" stop-color="#ff1300"/><stop offset="0.09375" stop-color="#ff1300"/><stop offset="0.09375" stop-color="#ff2600"/><stop offset="0.10938" stop-color="#ff2600"/><stop offset="0.10938" stop-color="#ff3900"/><stop offset="0.12500" stop-color="#ff3900"/><stop offset="0.12500" stop-color="#ff4c00"/><stop offset="0.14062" stop-color="#ff4c00"/><stop offset="0.14062" stop-color="#ff5f00"/><stop offset="0.15625" stop-color="#ff5f00"/><stop offset="0.15625" stop-color="#ff7200"/><stop offset="0.17188" stop-color="#ff7200"/><stop offset="0.17188" stop-color="#ff8500"/><stop offset="0.18750" stop-color="#ff8500"/><stop offset="0.18750" stop-color="#ff9800"/><stop offset="0.20312" stop-color="#ff9800"/><stop offset="0.20312" stop-color="#ffab00"/><stop offset="0.21875" stop-color="#ffab00"/><stop offset="0.21875" stop-color="#ffbe00"/><stop offset="0.23438" stop-color="#ffbe00"/><stop offset="0.23438" stop-color="#ffd100"/><stop offset="0.25000" stop-color="#ffd100"/><stop offset="0.25000" stop-color="#ffe400"/><stop offset="0.26562" stop-color="#ffe400"/><stop offset="0.26562" stop-color="#fff700"/><stop offset="0.28125" stop-color="#fff700"/><stop offset="0.28125" stop-color="#f8ff07"/><stop offset="0.29688" stop-color="#f8ff07"/><stop offset="0.29688" stop-color="#ebff14"/><stop offset="0.31250" stop-color="#ebff14"/><stop offset="0.31250" stop-color="#deff21"/><stop offset="0.32812" stop-color="#deff21"/><stop offset="0.32812" stop-color="#d1ff2e"/><stop offset="0.34375" stop-color="#d1ff2e"/><stop offset="0.34375" stop-color="#c4ff3b"/><stop offset="0.35938" stop-color="#c4ff3b"/><stop offset="0.35938" stop-color="#b7ff48"/><stop offset="0.37500" stop-color="#b7ff48"/><stop offset="0.37500" stop-color="#aaff55"/><stop offset="0.39062" stop-color="#aaff55"/><stop offset="0.39062" stop-color="#9eff61"/><stop offset="0.40625" stop-color="#9eff61"/><stop offset="0.40625" stop-color="#91ff6e"/><stop offset="0.42188" stop-color="#91ff6e"/><stop offset="0.42188" stop-color="#84ff7b"/><stop offset="0.43750" stop-color="#84ff7b"/><stop offset="0.43750" stop-color="#77ff88"/><stop offset="0.45312" stop-color="#77ff88"/><stop offset="0.45312" stop-color="#6aff95"/><stop offset="0.46875" stop-color="#6aff95"/><stop offset="0.46875" stop-color="#5dffa2"/><stop offset="0.48438" stop-color="#5dffa2"/><stop offset="0.48438" stop-color="#50ffaf"/><stop offset="0.50000" stop-color="#50ffaf"/><stop offset="0.50000" stop-color="#44ffbb"/><stop offset="0.51562" stop-color="#44ffbb"/><stop offset="0.51562" stop-color="#37ffc8"/><stop offset="0.53125" stop-color="#37ffc8"/><stop offset="0.53125" stop-color="#2affd5"/><stop offset="0.54688" stop-color="#2affd5"/><stop offset="0.54688" stop-color="#1dffe2"/><stop offset="0.56250" stop-color="#1dffe2"/><stop offset="0.56250" stop-color="#10ffef"/><stop offset="0.57812" stop-color="#10ffef"/><stop offset="0.57812" stop-color="#03fffc"/><stop offset="0.59375" stop-color="#03fffc"/><stop offset="0.59375" stop-color="#00f4ff"/><stop offset="0.60938" stop-color="#00f4ff"/><stop offset="0.60938" stop-color="#00e4ff"/><stop offset="0.62500" stop-color="#00e4ff"/><stop offset="0.62500" stop-color="#00d5ff"/><stop offset="0.64062" stop-color="#00d5ff"/><stop offset="0.64062" stop-color="#00c6ff"/><stop offset="0.65625" stop-color="#00c6ff"/><stop offset="0.65625" stop-color="#00b6ff"/><stop offset="0.67188" stop-color="#00b6ff"/><stop offset="0.67188" stop-color="#00a7ff"/><stop offset="0.68750" stop-color="#00a7ff"/><stop offset="0.68750" stop-color="#0098ff"/><stop offset="0.70312" stop-color="#0098ff"/><stop offset="0.70312" stop-color="#0088ff"/><stop offset="0.71875" stop-color="#0088ff"/><stop offset="0.71875" stop-color="#0079ff"/><stop offset="0.73438" stop-color="#0079ff"/><stop offset="0.73438" stop-color="#006aff"/><stop offset="0.75000" stop-color="#006aff"/><stop offset="0.75000" stop-color="#005aff"/><stop offset="0.76562" stop-color="#005aff"/><stop offset="0.76562" stop-color="#004bff"/><stop offset="0.78125" stop-color="#004bff"/><stop offset="0.78125" stop-color="#003cff"/><stop offset="0.79688" stop-color="#003cff"/><stop offset="0.79688" stop-color="#002cff"/><stop offset="0.81250" stop-color="#002cff"/><stop offset="0.81250" stop-color="#001dff"/><stop offset="0.82812" stop-color="#001dff"/><stop offset="0.82812" stop-color="#000eff"/><stop offset="0.84375" stop-color="#000eff"/><stop offset="0.84375" stop-color="#0000fc"/><stop offset="0.85938" stop-color="#0000fc"/><stop offset="0.85938" stop-color="#0000e2"/><stop offset="0.87500" stop-color="#0000e2"/><stop offset="0.87500" stop-color="#0000c7"/><stop offset="0.89062" stop-color="#0000c7"/><stop offset="0.89062" stop-color="#0000ad"/><stop offset="0.90625" stop-color="#0000ad"/><stop offset="0.90625" stop-color="#000092"/><stop offset="0.92188" stop-color="#000092"/><stop offset="0.92188" stop-color="#000078"/><stop offset="0.93750" stop-color="#000078"/><stop offset="0.93750" stop-color="#00005d"/><stop offset="0.95312" stop-color="#00005d"/><stop offset="0.95312" stop-color="#000042"/><stop offset="0.96875" stop-color="#000042"/><stop offset="0.96875" stop-color="#000028"/><stop offset="0.98438" stop-color="#000028"/><stop offset="0.98438" stop-color="#00000d"/><stop offset="1.00000" stop-color="#00000d"/></linearGradient>
<rect x="684.8" y="557.8" width="33.7" height="343" fill="url(#g3)"/>
<rect x="684.8" y="557.8" width="33.7" height="343" fill="none" stroke="#222" stroke-width="1"/>
<path d="M684.8 786.5h3M718.5 786.5h-3M684.8 672.1h3M718.5 672.1h-3" stroke="#000" stroke-width="1.2"/>
<text transform="matrix(1 0 0 1.035 722.8 915)" font-size="40" text-anchor="start" fill="#000">0</text>
<text transform="matrix(1 0 0 1.035 722.8 800.67)" font-size="40" text-anchor="start" fill="#000">0.02</text>
<text transform="matrix(1 0 0 1.035 722.8 686.33)" font-size="40" text-anchor="start" fill="#000">0.04</text>
<text transform="matrix(1 0 0 1.035 722.8 572)" font-size="40" text-anchor="start" fill="#000">0.06</text>
<text transform="matrix(1 0 0 1.035 125.6 948.6)" font-size="47" text-anchor="middle" fill="#000">0</text>
<text transform="matrix(1 0 0 1.035 232.34 948.6)" font-size="47" text-anchor="middle" fill="#000">2</text>
<text transform="matrix(1 0 0 1.035 339.08 948.6)" font-size="47" text-anchor="middle" fill="#000">4</text>
<text transform="matrix(1 0 0 1.035 445.82 948.6)" font-size="47" text-anchor="middle" fill="#000">6</text>
<text transform="matrix(1 0 0 1.035 552.56 948.6)" font-size="47" text-anchor="middle" fill="#000">8</text>
<text transform="matrix(1 0 0 1.035 659.3 948.6)" font-size="47" text-anchor="middle" fill="#000">10</text>
<text transform="matrix(1 0 0 1.035 121.2 879.21)" font-size="47" text-anchor="end" fill="#000">2</text>
<text transform="matrix(1 0 0 1.035 121.2 803.03)" font-size="47" text-anchor="end" fill="#000">4</text>
<text transform="matrix(1 0 0 1.035 121.2 726.86)" font-size="47" text-anchor="end" fill="#000">6</text>
<text transform="matrix(1 0 0 1.035 121.2 650.68)" font-size="47" text-anchor="end" fill="#000">8</text>
<text transform="matrix(1 0 0 1.035 121.2 574.5)" font-size="47" text-anchor="end" fill="#000">10</text>
<text transform="matrix(1 0 0 1.035 302.4 992.6)" font-size="46.7" text-anchor="start" fill="#000">Time(fs)</text>
<text transform="matrix(0 -1 1.03 0 49.1 802.1)" font-size="46.7" text-anchor="start">R(a.u.)</text>
<text transform="matrix(1 0 0 1.035 159.6 614.2)" font-size="50.7" text-anchor="start" fill="#eeeeee">(c) 2p<tspan class="n" dx="-4">σ</tspan><tspan font-size="40" dy="25">u</tspan></text>
<filter id="bl" filterUnits="userSpaceOnUse" x="930" y="550" width="530" height="360"><feGaussianBlur stdDeviation="1.2"/></filter>
<clipPath id="cd"><rect x="937.9" y="557.9" width="509.6" height="342.1"/></clipPath>
<g clip-path="url(#cd)">
<rect x="937.9" y="557.9" width="509.6" height="342.1" fill="#00005d"/>
<path fill="#000078" fill-rule="evenodd" d="M1122 558.5l0-0.5 326 0 0 344-184 0-326 0 0-334.5 102 0 62-1.5 16-5 3-1 1-1.5z"/>
<path fill="#000092" fill-rule="evenodd" d="M1172 558l276 0 0 344-242 0-268 0 0-331 106 0 48 1 12 1 14-3.5 29.5-1.5 22-2 5.5-2-0.5-2-4-4 1.5 0z"/>
<path fill="#0000ad" fill-rule="evenodd" d="M1196 558l252 0 0 344-280 0-230 0 0-328 108 0 46 1.5 12 1.5 10-3.5 4-1 52-3 43.5-3.5-1-2-12.5-3.5-4-2.5z"/>
<path fill="#0000c7" fill-rule="evenodd" d="M1224 558l224 0 0 344-358 0-152 0 0-325 110 0 44 1.5 12 3 12-6 20-2 58-3 88.5-2.5 7-2-9-2-38.5-3-10.5-1-7.5-2z"/>
<path fill="#0000e2" fill-rule="evenodd" d="M1274 558l174 0 0 344-396 0-114 0 0-322 106 0 48 2 4 0.5 6 2.5 2 0 8-5.5 4-1.5 24-2.5 56-3 98-2 28-2.5 3.5-2-3-2-2.5-0.5-35-3.5-11-2z"/>
<path fill="#0000fc" fill-rule="evenodd" d="M1326 558l122 0 0 344-422 0-88 0 0-318.5 104 0 50 2.5 10 2.5 2 0 8-7 4-1.5 26-3 50-3 104-2 35.5-2 13.5-2 5-2-3.5-2-16.5-4-4-2z"/>
<path fill="#000eff" fill-rule="evenodd" d="M1354 558l94 0 0 344-454 0-56 0 0-314 102-0.5 50 2 12 2 4-2 6-6 4-2 26-3 68-3.5 110-2 42.5-3 17-2 5-2-3-2-21-4-6.5-2z"/>
<path fill="#001dff" fill-rule="evenodd" d="M1402 558l46 0 0 4-2 0-44-4zM1412 570l36-2 0 334-478 0-32 0 0-310 102-1 50 1.5 12 1.5 4-2 6-7 4-2 32-3.5 66-3.5 112-2 86-4z"/>
<path fill="#002cff" fill-rule="evenodd" d="M1372 574l76-1.5 0 329.5-436 0-74 0 0-307.5 104-0.5 48 1 12 1 4-2 6-7 4-2.5 28-3.5 72-4 88-1 68-2z"/>
<path fill="#003cff" fill-rule="evenodd" d="M1358 576l40-1 50 0 0 327-422 0-88 0 0-305 104-1 50 1 10 1 4-2 6-7.5 4-2.5 28-3.5 72-4 86-1 56-1.5z"/>
<path fill="#004bff" fill-rule="evenodd" d="M1342 578l54-1.5 52 0.5 0 325-406 0-104 0 0-303.5 104-1 50 1 10 1 4-2 6-7.5 4-2.5 28-4 74-4 124-1.5z"/>
<path fill="#005aff" fill-rule="evenodd" d="M1258 580l136-2 54 0.5 0 323.5-322 0-188 0 0-301.5 104-1.5 50 1 10 1 4-1.5 5.5-7.5 2.5-2 8-2.5 24-2.5 34-2.5 38-2 40-0.5z"/>
<path fill="#006aff" fill-rule="evenodd" d="M1360 580l88 0 0 322-424 0-86 0 0-300 104-1.5 50 1 10 1 4-1.5 6-8 4-3 6-1 26-3 72-4.5 140-1.5z"/>
<path fill="#0079ff" fill-rule="evenodd" d="M1290 582l104-1 54 0.5 0 320.5-354 0-156 0 0-299 104-1 50 0.5 10 1.5 4-1 6-8.5 4-3 22-3.5 32-3 46-2.5 74-0.5z"/>
<path fill="#0088ff" fill-rule="evenodd" d="M1212 584l152-2 84 1 0 319-276 0-234 0 0-297.5 104-1.5 50 1 12 1.5 2-1 2-2 6-8.5 6-2.5 42-4.5 50-3z"/>
<path fill="#0098ff" fill-rule="evenodd" d="M1302 584l92-0.5 54 0.5 0 318-366 0-144 0 0-296.5 106-1 48 0.5 12 2 2-1 2-2 4-6.5 4-3.5 6-1.5 20-2.5 32-3 44-2.5 84-0.5z"/>
<path fill="#00a7ff" fill-rule="evenodd" d="M1212 586l34-1 116-0.5 86 1 0 316.5-278 0-232 0 0-295 106-1.5 48 1 12 2 2-0.5 2-2 6-9 6-2.5 46-5.5 46-3z"/>
<path fill="#00b6ff" fill-rule="evenodd" d="M1266 586l126-0.5 56 1 0 315.5-332 0-178 0 0-293.5 106-1.5 48 0.5 12 2.5 2-0.5 2-1.5 7-10 3-1.5 4-1 42-5 30-2.5 30-1.5 42-0.5z"/>
<path fill="#00c6ff" fill-rule="evenodd" d="M1214 588l32-1 116-0.5 86 1 0 314.5-278 0-232 0 0-292.5 108-1.5 46 1 12 2.5 2 0 2-1.5 7-10 5-2.5 48-6 46-3.5z"/>
<path fill="#00d5ff" fill-rule="evenodd" d="M1254 588l138-0.5 56 1 0 313.5-320 0-190 0 0-291 100-1.5 41 0.5 15 0.5 10 3 2-0.5 2-1 8-11 8-2.5 20-3 48-5 28-2 34-0.5z"/>
<path fill="#00e4ff" fill-rule="evenodd" d="M1218 590l30-1 112-0.5 88 1.5 0 312-284 0-226 0 0-289.5 100-1.5 48 0.5 8.5 0.5 9.5 3.5 2 0 3.5-3.5 6.5-9 4-2 19-3 32-4 47-4z"/>
<path fill="#00f4ff" fill-rule="evenodd" d="M1268 590l124-0.5 56 1.5 0 311-440 0-70 0 0-183.5 44 0 6-1 2.5-1.5 1.5-2 5-12 5-4.5 10-3.5 24-3.5 4-1.5 2-2.5 0.5-2.5 0-12-2-4-6.5-2-96 0 0-52 100-2 50 1 8 1 8 3.5 2 0 2.5-1.5 5.5-8 4-3.5 21-4.5 66-8 33-2 30 0z"/>
<path fill="#03fffc" fill-rule="evenodd" d="M1226 592l26-1 106-0.5 90 1.5 0 310-462 0-48 0 0-157.5 48 0 20-1 28-3.5 12-4.5 44-22.5 6-5 4-8.5 2.5-9.5 0-26-2.5-8-4-3.5-8-2.5-16-2.5-34-3-100 0 0-28.5 100-2 50 1 8 0.5 8 4.5 2 0.5 4-3 6-8.5 2-1.5 4.5-1.5 19-4 41.5-6 43-4z"/>
<path fill="#10ffef" fill-rule="evenodd" d="M1288 592l104 0 56 1.5 0 308.5-510 0 0-28 0-91.5 44 0 8-0.5 28-9.5 32-7.5 44-11.5 2-1.5 3-4 7-18.5 8-12.5 1-11 0.5-26-0.5-14-4.5-16-2.5-6.5-4-3.5-166-0.5 0-21.5 100-2 50 1 8 1 8 6 2 0.5 2-1.5 8-10 2-2 10.5-3 17.5-4 48-7.5 20.5-2.5 29.5-1.5 44-0.5z"/>
<path fill="#1dffe2" fill-rule="evenodd" d="M1238 594l120-1 90 1.5 0 307.5-328 0-182 0 0-96 45 0 9-1 48-13.5 50-13 6-2.5 4-4 4-6 10-20.5 20-21.5 2.5-4 1-4 0.5-42-1-8-3-6-6-8-3.5-4-10.5-8-4-6-0.5-2 0.5-4 5.5-10 2.5-2 4-2 22-6 56-10.5 18-2.5 20-1zM972 620l68-1.5 52 2.5 4 1.5 2.5 3.5-0.5 4-2 1.5-6 1.5-26 1-28 1-98-0.5 0-13 34-1.5z"/>
<path fill="#2affd5" fill-rule="evenodd" d="M1228 596l58-2 66 0 96 2 0 306-326 0-184 0 0-82 46 0 10-1 69.5-11 26-6 6.5-3 10-11 8-6 3.5-4 13.5-26 11-13.5 5-8.5 3.5-6 2-6 0.5-48-2.5-10-4.5-10-3.5-4-16.5-8.5-6-3.5-2.5-4-0.5-2 1-4 4-3.5 4.5-2.5 17.5-6 54-12 14-2.5 16-1.5zM988 626l46-2 6 0.5 3.5 1.5-1.5 0-10 1-44-1z"/>
<path fill="#37ffc8" fill-rule="evenodd" d="M1260 596l98-1 90 2 0 305-356 0-154 0 0-70.5 52-0.5 100-13.5 8-2 18-11.5 18-18 4.5-6 10-28 14-26 1.5-4 1-6 0-46-0.5-6-1.5-6-3.5-8-5-6-20.5-12-2.5-4 1-4 5.5-4 8-3.5 58-15.5 20-3 36-2z"/>
<path fill="#44ffbb" fill-rule="evenodd" d="M1242 598l52-1.5 60 0 94 2 0 303.5-328 0-182 0 0-59.5 52-1 102-12.5 6-2 8-4.5 12-5 16.5-9.5 3.5-3.5 4-6 8-16.5 7-20 11-25 4-12.5 1-6.5 0-50-3-16-2-6-2-3.5-4-3.5-10.5-7-3-4 0-2 4-4 4-2 21.5-8.5 23.5-7.5 16.5-3.5 24-2.5z"/>
<path fill="#50ffaf" fill-rule="evenodd" d="M1286 598l74-0.5 88 2.5 0 302-362 0-148 0 0-49.5 50-2.5 44-6 62-5.5 4-0.5 16-7.5 26-14.5 4-3.5 3-4.5 15-31.5 8-22 9.5-34.5 0-56-4-18-8.5-16 0-4 0.5-2 7-6 7.5-4 20-7.5 12-3.5 28-3.5 44-1.5z"/>
<path fill="#5dffa2" fill-rule="evenodd" d="M1266 600l32-1 58 0 92 2 0 301-338 0-172 0 0-40.5 48-3.5 50-8.5 60-5.5 22.5-6 21.5-12 6-5.5 8-10.5 14-27 4-11.5 14-49.5 0.5-10 0-46-3.5-18-6.5-16 0-4 1.5-4 3.5-4 6.5-4 12.5-6 13.5-4.5 26-4.5 26-1z"/>
<path fill="#6aff95" fill-rule="evenodd" d="M1252 602l46-1.5 54-0.5 96 2.5 0 299.5-322 0-188 0 0-35 50-3 52-9.5 56-6 27-6.5 11.5-4 7.5-4.5 6-6 13-15.5 7-13.5 9.5-22.5 15-54 0.5-10 0-46-3.5-18-4.5-14-0.5-4 1.5-4 2.5-4 7.5-6 14-7 10-3 10-2 22-2z"/>
<path fill="#77ff88" fill-rule="evenodd" d="M1294 602l64-0.5 90 2.5 0 298-362 0-148 0 0-30.5 52-3.5 58-9 48-6 40-10.5 10-4.5 4.5-4 11.5-13.5 8-12.5 13.5-30 15-54 1.5-10-0.5-46-2.5-16-5-18 0-4 2.5-6 5.5-6 6-4 9.5-4 10.5-3 20-3 48-2z"/>
<path fill="#84ff7b" fill-rule="evenodd" d="M1280 604l38-1 38 0 92 2.5 0 296.5-350 0-160 0 0-26.5 52-4.5 106-13.5 44-12 8-3.5 6-4 10-11 8-11.5 16-33 17.5-58.5 1-10 0-46-3.5-18-4.5-16 0-4 2.5-6 3-4 6-4.5 7-3.5 11-3.5 18-3 34-1.5z"/>
<path fill="#91ff6e" fill-rule="evenodd" d="M1270 606l48-1.5 36-0.5 94 3 0 295-340 0-170 0 0-22.5 52-5 106-13 48-14 10-4 8-5.5 6-7 10.5-17 13.5-27.5 13.5-40.5 7-24 0.5-10 0-46-3.5-18-5-14 0-4 1-4 2.5-4 4.5-4 7-4 6.5-2.5 18-4 26-1.5z"/>
<path fill="#9eff61" fill-rule="evenodd" d="M1312 606l48-0.5 88 3 0 293.5-384 0-126 0 0-18.5 100-12 60-6.5 46-13.5 13-5.5 9-5 4-4 4.5-7 11-18 6.5-13.5 6-14.5 6.5-20 7-16 8-28 1.5-26-0.5-26-4-18-6.5-16 0-4 2.5-6 3.5-4 6-4 10-4 10-2.5 24-2 46-1.5z"/>
<path fill="#aaff55" fill-rule="evenodd" d="M1298 608l58-1 92 3 0 292-376 0-134 0 0-12.5 29.5-5.5 52.5-7.5 80-8.5 47-14 15-6 8-5 6.5-7 16.5-28 15-39.5 9-18.5 11-32 2.5-28 0-22-1.5-6-4.5-12-8.5-16 0-4 1-4 3-4 5.5-4 8-4 8.5-2.5 18-2 38-1.5z"/>
<path fill="#b7ff48" fill-rule="evenodd" d="M1290 610l30-1 36-0.5 92 3 0 290.5-370 0-140 0 0-3.5 36-10.5 31-6 33-5 64-6.5 24-6.5 26-8 14-6 9.5-6 7-8 14-24 14-38 10-20 6.5-18 8-16 1.5-4 4.5-28-0.5-20-2-6-7-14-9-14-0.5-4 1.5-4 3-4 3.5-2.5 6-3.5 6-2.5 13-1.5 35-2z"/>
<path fill="#c4ff3b" fill-rule="evenodd" d="M1286 612l34-1.5 34 0 94 3 0 288.5-372 0-114.5 0 2-2 9.5-4 25-8 16.5-4 25.5-4 58-6 28-6.5 22-6.5 14.5-5 9.5-4.5 8-6 8-9.5 12-20 14-38 10-20 9.5-24 4.5-7 7.5-9 8.5-14 15.5-16 5-16 0.5-2-2-2-25-12.5-4-3-14.5-18.5-0.5-4 1-4 5.5-6 8.5-4 16-2.5 26-1.5z"/>
<path fill="#d1ff2e" fill-rule="evenodd" d="M1288 614l32-1.5 34-0.5 94 3.5 0 286.5-390 0-70.5 0 2-2 7.5-4 21-8 16-4 64-7 48-11.5 18-6 10-4.5 10-7 7.5-8 7-10 5-10 14.5-39.5 8.5-16.5 7.5-20 6-10.5 6-5.5 18.5-10 11.5-10 8-6 27.5-14 4.5-4 4.5-8 2.5-8-0.5-4-2.5-4-4-2.5-20-7.5-26-1-20-5-8-4-5.5-6-1-4 1-4 3.5-4 4-2.5 5.5-1.5 12-2 26.5-2z"/>
<path fill="#deff21" fill-rule="evenodd" d="M1296 616l26-1.5 32 0 94 3.5 0 284-380 0-60 0 2-2 11-6 17-6 26-4 32-4 38-7.5 30-8.5 10-4 7.5-4 6.5-5 7-7 5-6 5-8 4-10 11-30 10.5-22 6.5-20 5-8.5 6-5 30.5-12.5 17.5-10.5 20-8 4-2.5 5-5 3-4.5 2-5.5 4.5-18-0.5-6-1-4-2-4-3.5-4-7.5-3.5-14-2.5-12-1.5-22-1-10-1.5-14-4-3.5-2-1-2 0-4 1.5-2 2.5-2 4.5-2 18-4 26-2z"/>
<path fill="#ebff14" fill-rule="evenodd" d="M1310 618l14-1 32 0 44 2.5 48 1 0 281.5-366 0-54 0 1.5-2 8.5-4.5 13-3.5 18.5-4 28.5-4.5 14-4 24-4 18-4 18-5.5 14-7 14-11.5 5-5.5 4-6 11-30 14-30 6.5-24 3.5-6.5 6-4 16-6.5 28-10 24-7 6-3.5 6-6 4-5.5 4-9 3.5-20 0-14-1.5-10-2.5-4-3.5-2.5-8-2-56-6-6-2-3-1.5-1.5-2 1-2 2-2 9.5-3.5 38-4.5z"/>
<path fill="#f8ff07" fill-rule="evenodd" d="M1316 622l38-1 44 3 50 1 0 277-318 0-72.5 0 8.5-4 30-9 16-6 34-5.5 20-4.5 16-6 12-6 13-11 5-6 3.5-6 10.5-26 13-28 8-28 3-5 4.5-3 9.5-4.5 28-8.5 36.5-7 5.5-3 4-4.5 2.5-4.5 3-8 4-20 1-24-1-14-1.5-5.5-4-4-6-2.5-30.5-4-9.5-2-4.5-2 0.5-2 4.5-2 19.5-4z"/>
<path fill="#fff700" fill-rule="evenodd" d="M1358 633.5l10-1 80 0 0 269.5-270 0-80.5 0 1.5-2 8-8 6.5-4 42.5-7.5 14-3.5 24-9 7-4 7-5 12.5-13 6-8 4.5-10 6.5-20 6.5-14 4-6.5 7-9.5 9.5-20 2.5-4 2.5-2 9.5-4 19-5 18-1 6 0.5 6 1.5 8 3.5 4 0.5 6-1.5 3.5-2.5 2.5-4 2-6 2-20 1.5-50 0-18-2-10 1-2 1.5-0.5z"/>
<path fill="#ffe400" fill-rule="evenodd" d="M1298 763.5l14-0.5 4 1 2 1 4 7 5 14 2.5 10 1.5 14-3 34-1 18 1.5 6 3.5 7.5 2 4 2 2 2 0 2-2 8-12 6-7.5 27-18 4.5-4 10.5-13.5 15.5-10.5 4.5-4 2.5-6 1-22 3-6 4.5-4 7-4 8-3 6-1.5 0 138.5-48 0-271.5 0 3.5-4 13.5-8 34.5-10.5 24-9.5 7-4 17-11.5 6-6.5 5-8 3.5-12 4.5-18 2.5-6 4.5-6.5 10-10.5 6-4 10-5 12-11 6-3.5z"/>
<path fill="#ffd100" fill-rule="evenodd" d="M1288 789.5l10-1.5 16 1.5 4 1.5 4 5 2 6 1.5 8-0.5 8-2 10-7 17.5-4 6.5-7 8 0 2 2.5 2 8.5 3.5 4 3 4 5.5 8 15.5 4 4 2 0.5 4-3 12-15 4-3.5 36-20 8-3.5 46-11.5 0 62.5-54 0-237.5 0 1.5-2.5 4-3.5 19-10 37-15.5 36-10.5 2-2 0.5-2 0-40 2-8 5.5-7.5 6-5 18-6z"/>
<path fill="#ffbe00" fill-rule="evenodd" d="M1286 802l8-2 8 1 12 3 4 4 0 6-2 4-4 3.5-12 7-4 1.5-4 0.5-10-1.5-8-4-4-5-1.5-6 1.5-5 4-3 12-4zM1438 862l10-2 0 42-92 0-8.5 0 1.5-4 3-3.5 8-6.5 36-16.5 42-9.5zM1240 873.5l10-0.5 44 0 8 1.5 10 3.5 4 1.5 4 3.5 7 11 3 8-62 0-91 0 1.5-2 4.5-4 16.5-10 20.5-8.5 20-4z"/>
<path fill="#ffab00" fill-rule="evenodd" d="M1440 878l8-1.5 0 25.5-72 0-7.5 0 2.5-2 27-12.5 12.5-3.5 29.5-6zM1238 882l12-1.5 42 0.5 8 1.5 12 5 8 5 3.5 5.5 1 4-42.5 0-86.5 0 1-2 3.5-4 12-7.5 8-3 18-3.5z"/>
<path fill="#ff9800" fill-rule="evenodd" d="M1262 888l24 0.5 10 1 16 6.5 4 3 2 3-54 0-54.5 0 1-2 3.5-3 8-3.5 22-4.5 18-1zM1444 898l4-1 0 5-8 0-3 0 2.5-2 4.5-2z"/>
<path fill="#ff8500" fill-rule="evenodd" d="M1254 896l18-1.5 20 2.5 6 3 2 2-22 0-45 0 3-2 6.5-2 11.5-2z"/>
<path d="M1068 578.5L1113 588.5L1146 578" fill="none" stroke="#000030" stroke-width="3" stroke-opacity="0.6" filter="url(#bl)"/>
<path d="M1110 586V632" fill="none" stroke="#0040ff" stroke-width="5" stroke-opacity="0.35" filter="url(#bl)"/>
<path d="M958 579V600M968 579V596" fill="none" stroke="#0000a0" stroke-width="4" stroke-opacity="0.5" filter="url(#bl)"/>
<path d="M938 566Q1050 570 1150 566T1330 570M1000 573Q1100 575 1180 572" fill="none" stroke="#000020" stroke-width="2.5" stroke-opacity="0.55" filter="url(#bl)"/>
<pattern id="hp" patternUnits="userSpaceOnUse" x="0" y="0.5" width="40" height="7.5"><rect width="40" height="2.2" fill="#50ffc8"/><rect y="4.5" width="40" height="1.4" fill="#0098ff"/></pattern>
<linearGradient id="hpg" gradientUnits="userSpaceOnUse" x1="937.9" y1="0" x2="1218.2" y2="0"><stop offset="0" stop-color="#fff" stop-opacity="0.5"/><stop offset="0.6" stop-color="#fff" stop-opacity="0.4"/><stop offset="1" stop-color="#fff" stop-opacity="0"/></linearGradient>
<mask id="hpm"><rect x="937.9" y="640" width="280.3" height="245" fill="url(#hpg)"/></mask>
<rect x="937.9" y="640" width="280.3" height="245" fill="url(#hp)" mask="url(#hpm)"/>
<linearGradient id="fg" gradientUnits="userSpaceOnUse" x1="937.9" y1="0" x2="1218.2" y2="0"><stop offset="0" stop-color="#40ffc0" stop-opacity="0.75"/><stop offset="0.12" stop-color="#40ffc0" stop-opacity="0.6"/><stop offset="0.3" stop-color="#40ffc0" stop-opacity="0.05"/><stop offset="0.45" stop-color="#40ffc0" stop-opacity="0.1"/><stop offset="0.62" stop-color="#40ffc0" stop-opacity="0.65"/><stop offset="0.85" stop-color="#60ffa0" stop-opacity="0.5"/><stop offset="1" stop-color="#60ffa0" stop-opacity="0"/></linearGradient>
<path d="M937.9 637.8 977.9 636.6 1018 635.7 1058 635.4 1098.1 635.7 1138.1 636.3 1178.1 636.9 1218.2 637.1M937.9 649.7 977.9 648.5 1018 647.8 1058 647.5 1098.1 647.8 1138.1 648.5 1178.1 649.1 1218.2 649.4M937.9 661.1 977.9 660 1018 659.3 1058 659.1 1098.1 659.5 1138.1 660.2 1178.1 660.9 1218.2 661.2M937.9 672.9 977.9 671.9 1018 671.2 1058 671.1 1098.1 671.5 1138.1 672.2 1178.1 673 1218.2 673.4M937.9 685.9 977.9 685 1018 684.4 1058 684.3 1098.1 684.8 1138.1 685.6 1178.1 686.4 1218.2 686.9M937.9 698.5 977.9 697.6 1018 697 1058 697 1098.1 697.5 1138.1 698.4 1178.1 699.3 1218.2 699.8M937.9 710.1 977.9 709.3 1018 708.8 1058 708.8 1098.1 709.4 1138.1 710.4 1178.1 711.3 1218.2 711.9M937.9 721.8 977.9 721 1018 720.5 1058 720.7 1098.1 721.3 1138.1 722.3 1178.1 723.3 1218.2 723.9M937.9 734.6 977.9 733.9 1018 733.5 1058 733.7 1098.1 734.4 1138.1 735.4 1178.1 736.5 1218.2 737.2M937.9 747.3 977.9 746.7 1018 746.3 1058 746.6 1098.1 747.3 1138.1 748.5 1178.1 749.6 1218.2 750.3M937.9 760.3 977.9 759.7 1018 759.4 1058 759.7 1098.1 760.6 1138.1 761.7 1178.1 762.9 1218.2 763.7M937.9 772.8 977.9 772.3 1018 772.1 1058 772.4 1098.1 773.3 1138.1 774.5 1178.1 775.8 1218.2 776.7M937.9 785.9 977.9 785.4 1018 785.3 1058 785.7 1098.1 786.6 1138.1 787.9 1178.1 789.2 1218.2 790.2M937.9 799.2 977.9 798.8 1018 798.7 1058 799.2 1098.1 800.2 1138.1 801.5 1178.1 802.9 1218.2 803.9M937.9 810.8 977.9 810.4 1018 810.4 1058 810.9 1098.1 812 1138.1 813.4 1178.1 814.8 1218.2 815.9M937.9 823.4 977.9 823.1 1018 823.1 1058 823.7 1098.1 824.8 1138.1 826.3 1178.1 827.8 1218.2 828.9M937.9 834.9 977.9 834.7 1018 834.8 1058 835.4 1098.1 836.6 1138.1 838.2 1178.1 839.7 1218.2 840.9M937.9 847.3 977.9 847.2 1018 847.3 1058 848 1098.1 849.3 1138.1 850.9 1178.1 852.4 1218.2 853.7M937.9 860 977.9 859.9 1018 860.1 1058 860.9 1098.1 862.2 1138.1 863.9 1178.1 865.5 1218.2 866.8M937.9 873.3 977.9 873.2 1018 873.5 1058 874.4 1098.1 875.7 1138.1 877.4 1178.1 879.1 1218.2 880.5" fill="none" stroke="url(#fg)" stroke-width="5"/>
<path d="M974.5 639.6L1013.9 638.9M1159.7 640L1190.1 640M956 652.8L998.1 652.6M1066.4 650.5L1136.1 651.3M958.9 664.9L998 663.4M1060 661.7L1094.3 662.3M938.1 675.7L1009.1 674.4M968.1 688.8L991.4 688.3M953.7 700.9L988.7 701.5M1084.6 701.1L1123.7 701.9M947.7 712.6L988.7 713.6M1069 713.2L1103.6 713.4M1160.3 715.2L1192 715.1M975.7 723.9L1009 724.9M1063.8 724.1L1103.9 724.4M1161.2 726.4L1186.8 726.6M953.1 737.1L974.9 738.4M1056.5 737.9L1108.2 737.8M959.1 751.3L1010 749.2M1157.7 751.8L1189.9 753.1M963.5 763.4L1012.1 763.4M1044.8 762.5L1091.2 763.6M949 776L1017 776.5M1061.3 776.5L1131 778M975.5 788.8L997.5 788.9M1159.2 792.6L1188.5 793.2M954.1 801.6L983.6 801.7M957.4 814.4L1002.6 813.5M945.4 826.6L969.1 827.2M1036.3 850.6L1058.3 851M1152.5 855.1L1173.7 855.1M950.6 863.6L1016.4 864.3M1065.8 864.8L1095.9 864.7M1052 877L1092.8 879.3" fill="none" stroke="#0080e0" stroke-width="1.6" stroke-opacity="0.45" stroke-linecap="round"/>
<path d="M1336.4 647H1447.5M1326.3 658.1H1447.5M1341.1 669.1H1447.5M1339.5 679H1447.5M1344.2 689.8H1447.5M1349 699.5H1447.5M1356 710.3H1447.5M1352 721.4H1447.5M1363.8 732.3H1447.5M1354.7 743.6H1447.5M1363.2 753.1H1447.5M1361.6 763.1H1447.5M1357 774.5H1447.5M1355.7 784.5H1447.5M1346.5 795.3H1447.5M1343 805.5H1447.5M1349.8 816.4H1447.5M1338.3 826.6H1447.5M1331.9 837.2H1447.5M1330.8 847.2H1447.5M1324.7 857.6H1447.5M1331.6 868.6H1447.5M1323.8 878.7H1447.5M1326.2 889.7H1447.5M1328.5 899.5H1447.5" fill="none" stroke="#ffc000" stroke-width="4.5" stroke-opacity="0.6" filter="url(#bl)"/>
<path d="M1262.9 650L1319.5 650.8M1244 662.3L1316.6 662.6M1227.8 674.9L1335.3 676.5M1254.3 686.8L1339.4 686.1M1207.1 697.3L1328.4 696.2M1220.5 707L1329 706M1211.2 719.6L1316.5 718.4M1250.7 731.2L1345.5 729.4M1254.4 743.6L1324 743M1253.2 753.3L1336.9 752.4M1227.9 764.1L1324.9 765.9" fill="none" stroke="#80ff80" stroke-width="2" stroke-opacity="0.45"/>
</g>
<rect x="937.9" y="899.9" width="509.6" height="1.1" fill="#fff" fill-opacity="0.82"/>
<rect x="937.4" y="901" width="510.1" height="1.2" fill="#444"/>
<rect x="937.3" y="557.9" width="1" height="343.9" fill="#777"/>
<path d="" stroke="#000" stroke-width="1.2"/>
<line x1="1346.4" y1="858.5" x2="1418.6" y2="784.9" stroke="#000" stroke-width="5" stroke-dasharray="18 8.7"/>
<polygon fill="#000" points="1331,874.2 1352.1,864.1 1340.7,852.9"/>
<polygon fill="#000" points="1434,769.2 1424.3,790.5 1412.9,779.3"/>
<linearGradient id="g4" gradientUnits="userSpaceOnUse" x1="0" y1="557.8" x2="0" y2="901.6"><stop offset="0.00000" stop-color="#8e0000"/><stop offset="0.01563" stop-color="#8e0000"/><stop offset="0.01563" stop-color="#ab0000"/><stop offset="0.03125" stop-color="#ab0000"/><stop offset="0.03125" stop-color="#c70000"/><stop offset="0.04688" stop-color="#c70000"/><stop offset="0.04688" stop-color="#e30000"/><stop offset="0.06250" stop-color="#e30000"/><stop offset="0.06250" stop-color="#ff0000"/><stop offset="0.07812" stop-color="#ff0000"/><stop offset="0.07812" stop-color="#ff1300"/><stop offset="0.09375" stop-color="#ff1300"/><stop offset="0.09375" stop-color="#ff2600"/><stop offset="0.10938" stop-color="#ff2600"/><stop offset="0.10938" stop-color="#ff3900"/><stop offset="0.12500" stop-color="#ff3900"/><stop offset="0.12500" stop-color="#ff4c00"/><stop offset="0.14062" stop-color="#ff4c00"/><stop offset="0.14062" stop-color="#ff5f00"/><stop offset="0.15625" stop-color="#ff5f00"/><stop offset="0.15625" stop-color="#ff7200"/><stop offset="0.17188" stop-color="#ff7200"/><stop offset="0.17188" stop-color="#ff8500"/><stop offset="0.18750" stop-color="#ff8500"/><stop offset="0.18750" stop-color="#ff9800"/><stop offset="0.20313" stop-color="#ff9800"/><stop offset="0.20313" stop-color="#ffab00"/><stop offset="0.21875" stop-color="#ffab00"/><stop offset="0.21875" stop-color="#ffbe00"/><stop offset="0.23437" stop-color="#ffbe00"/><stop offset="0.23437" stop-color="#ffd100"/><stop offset="0.25000" stop-color="#ffd100"/><stop offset="0.25000" stop-color="#ffe400"/><stop offset="0.26562" stop-color="#ffe400"/><stop offset="0.26562" stop-color="#fff700"/><stop offset="0.28125" stop-color="#fff700"/><stop offset="0.28125" stop-color="#f8ff07"/><stop offset="0.29687" stop-color="#f8ff07"/><stop offset="0.29687" stop-color="#ebff14"/><stop offset="0.31250" stop-color="#ebff14"/><stop offset="0.31250" stop-color="#deff21"/><stop offset="0.32813" stop-color="#deff21"/><stop offset="0.32813" stop-color="#d1ff2e"/><stop offset="0.34375" stop-color="#d1ff2e"/><stop offset="0.34375" stop-color="#c4ff3b"/><stop offset="0.35938" stop-color="#c4ff3b"/><stop offset="0.35938" stop-color="#b7ff48"/><stop offset="0.37500" stop-color="#b7ff48"/><stop offset="0.37500" stop-color="#aaff55"/><stop offset="0.39062" stop-color="#aaff55"/><stop offset="0.39062" stop-color="#9eff61"/><stop offset="0.40625" stop-color="#9eff61"/><stop offset="0.40625" stop-color="#91ff6e"/><stop offset="0.42188" stop-color="#91ff6e"/><stop offset="0.42188" stop-color="#84ff7b"/><stop offset="0.43750" stop-color="#84ff7b"/><stop offset="0.43750" stop-color="#77ff88"/><stop offset="0.45313" stop-color="#77ff88"/><stop offset="0.45313" stop-color="#6aff95"/><stop offset="0.46875" stop-color="#6aff95"/><stop offset="0.46875" stop-color="#5dffa2"/><stop offset="0.48438" stop-color="#5dffa2"/><stop offset="0.48438" stop-color="#50ffaf"/><stop offset="0.50000" stop-color="#50ffaf"/><stop offset="0.50000" stop-color="#44ffbb"/><stop offset="0.51562" stop-color="#44ffbb"/><stop offset="0.51562" stop-color="#37ffc8"/><stop offset="0.53125" stop-color="#37ffc8"/><stop offset="0.53125" stop-color="#2affd5"/><stop offset="0.54687" stop-color="#2affd5"/><stop offset="0.54687" stop-color="#1dffe2"/><stop offset="0.56250" stop-color="#1dffe2"/><stop offset="0.56250" stop-color="#10ffef"/><stop offset="0.57813" stop-color="#10ffef"/><stop offset="0.57813" stop-color="#03fffc"/><stop offset="0.59375" stop-color="#03fffc"/><stop offset="0.59375" stop-color="#00f4ff"/><stop offset="0.60938" stop-color="#00f4ff"/><stop offset="0.60938" stop-color="#00e4ff"/><stop offset="0.62500" stop-color="#00e4ff"/><stop offset="0.62500" stop-color="#00d5ff"/><stop offset="0.64062" stop-color="#00d5ff"/><stop offset="0.64062" stop-color="#00c6ff"/><stop offset="0.65625" stop-color="#00c6ff"/><stop offset="0.65625" stop-color="#00b6ff"/><stop offset="0.67187" stop-color="#00b6ff"/><stop offset="0.67187" stop-color="#00a7ff"/><stop offset="0.68750" stop-color="#00a7ff"/><stop offset="0.68750" stop-color="#0098ff"/><stop offset="0.70312" stop-color="#0098ff"/><stop offset="0.70312" stop-color="#0088ff"/><stop offset="0.71875" stop-color="#0088ff"/><stop offset="0.71875" stop-color="#0079ff"/><stop offset="0.73438" stop-color="#0079ff"/><stop offset="0.73438" stop-color="#006aff"/><stop offset="0.75000" stop-color="#006aff"/><stop offset="0.75000" stop-color="#005aff"/><stop offset="0.76562" stop-color="#005aff"/><stop offset="0.76562" stop-color="#004bff"/><stop offset="0.78125" stop-color="#004bff"/><stop offset="0.78125" stop-color="#003cff"/><stop offset="0.79688" stop-color="#003cff"/><stop offset="0.79688" stop-color="#002cff"/><stop offset="0.81250" stop-color="#002cff"/><stop offset="0.81250" stop-color="#001dff"/><stop offset="0.82812" stop-color="#001dff"/><stop offset="0.82812" stop-color="#000eff"/><stop offset="0.84375" stop-color="#000eff"/><stop offset="0.84375" stop-color="#0000fc"/><stop offset="0.85937" stop-color="#0000fc"/><stop offset="0.85937" stop-color="#0000e2"/><stop offset="0.87500" stop-color="#0000e2"/><stop offset="0.87500" stop-color="#0000c7"/><stop offset="0.89063" stop-color="#0000c7"/><stop offset="0.89063" stop-color="#0000ad"/><stop offset="0.90625" stop-color="#0000ad"/><stop offset="0.90625" stop-color="#000092"/><stop offset="0.92188" stop-color="#000092"/><stop offset="0.92188" stop-color="#000078"/><stop offset="0.93750" stop-color="#000078"/><stop offset="0.93750" stop-color="#00005d"/><stop offset="0.95312" stop-color="#00005d"/><stop offset="0.95312" stop-color="#000042"/><stop offset="0.96875" stop-color="#000042"/><stop offset="0.96875" stop-color="#000028"/><stop offset="0.98437" stop-color="#000028"/><stop offset="0.98437" stop-color="#00000d"/><stop offset="1.00000" stop-color="#00000d"/></linearGradient>
<rect x="1472.6" y="557.8" width="33.4" height="343.8" fill="url(#g4)"/>
<rect x="1472.6" y="557.8" width="33.4" height="343.8" fill="none" stroke="#222" stroke-width="1"/>
<path d="M1472.6 787h3M1506 787h-3M1472.6 672.4h3M1506 672.4h-3" stroke="#000" stroke-width="1.2"/>
<text transform="matrix(1 0 0 1.035 1510.3 915.8)" font-size="40" text-anchor="start" fill="#000">-40</text>
<text transform="matrix(1 0 0 1.035 1510.3 801.2)" font-size="40" text-anchor="start" fill="#000">-30</text>
<text transform="matrix(1 0 0 1.035 1510.3 686.6)" font-size="40" text-anchor="start" fill="#000">-20</text>
<text transform="matrix(1 0 0 1.035 1510.3 572)" font-size="40" text-anchor="start" fill="#000">-10</text>
<text transform="matrix(1 0 0 1.035 937.9 948.6)" font-size="47" text-anchor="middle" fill="#000">0</text>
<text transform="matrix(1 0 0 1.035 1039.82 948.6)" font-size="47" text-anchor="middle" fill="#000">2</text>
<text transform="matrix(1 0 0 1.035 1141.74 948.6)" font-size="47" text-anchor="middle" fill="#000">4</text>
<text transform="matrix(1 0 0 1.035 1243.66 948.6)" font-size="47" text-anchor="middle" fill="#000">6</text>
<text transform="matrix(1 0 0 1.035 1345.58 948.6)" font-size="47" text-anchor="middle" fill="#000">8</text>
<text transform="matrix(1 0 0 1.035 1447.5 948.6)" font-size="47" text-anchor="middle" fill="#000">10</text>
<text transform="matrix(1 0 0 1.035 933.2 917.7)" font-size="47" text-anchor="end" fill="#000">100</text>
<text transform="matrix(1 0 0 1.035 933.2 831.93)" font-size="47" text-anchor="end" fill="#000">150</text>
<text transform="matrix(1 0 0 1.035 933.2 746.15)" font-size="47" text-anchor="end" fill="#000">200</text>
<text transform="matrix(1 0 0 1.035 933.2 660.38)" font-size="47" text-anchor="end" fill="#000">250</text>
<text transform="matrix(1 0 0 1.035 933.2 574.6)" font-size="47" text-anchor="end" fill="#000">300</text>
<text transform="matrix(1 0 0 1.035 1039.9 992)" font-size="46.7" text-anchor="start" fill="#000">Delay time(fs)</text>
<text transform="matrix(0 -1 1.03 0 845.8 972)" font-size="46.7" text-anchor="start">Harmonic order(<tspan class="n2" font-size="36" x="366.1">ω</tspan><tspan x="397.7">/</tspan><tspan class="n2" font-size="36" x="411.9">ω</tspan><tspan class="n2" font-size="34" x="443.9" dy="22.5">0</tspan><tspan class="n2" x="465.2" dy="-22.5">)</tspan></text>
<text transform="matrix(1 0 0 1.035 975.3 614.2)" font-size="50.7" text-anchor="start" fill="#eeeeee">(d)</text>
</svg></body></html>
